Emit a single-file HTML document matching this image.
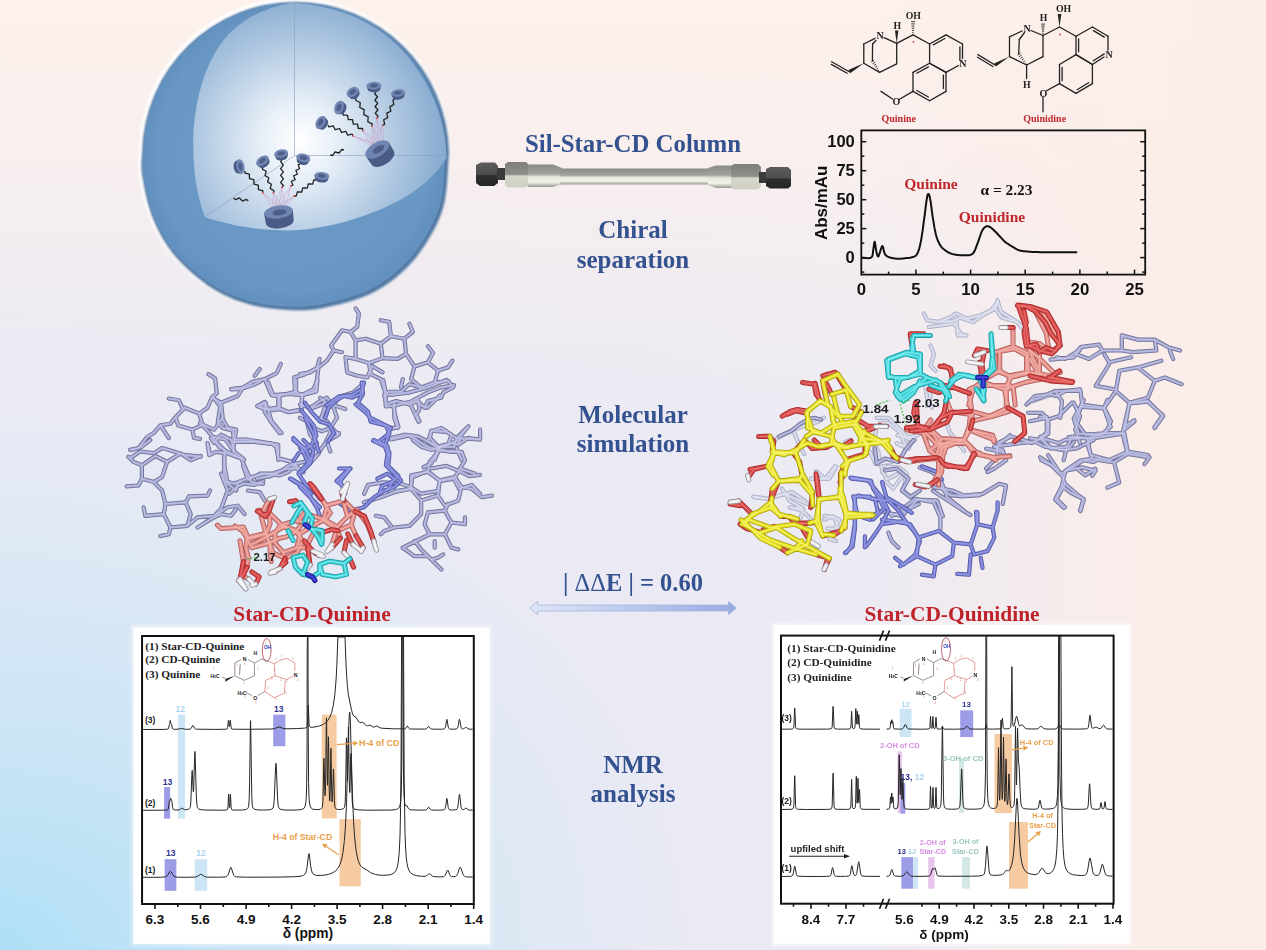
<!DOCTYPE html>
<html><head><meta charset="utf-8">
<style>
html,body{margin:0;padding:0;}
body{width:1266px;height:950px;overflow:hidden;position:relative;
background:linear-gradient(to left, rgba(252,237,232,1) 0px, rgba(252,237,232,0.85) 116px, rgba(252,237,232,0.35) 266px, rgba(252,237,232,0) 390px),
linear-gradient(to bottom, rgba(253,241,235,1) 0px, rgba(252,240,236,0.8) 150px, rgba(250,239,238,0.35) 300px, rgba(250,239,238,0) 440px),
radial-gradient(ellipse 950px 700px at 0px 950px, rgba(174,223,246,1) 0%, rgba(174,223,246,0.72) 15%, rgba(174,223,246,0.5) 30%, rgba(174,223,246,0.3) 47%, rgba(174,223,246,0.2) 55%, rgba(174,223,246,0.1) 64%, rgba(174,223,246,0) 76%),
linear-gradient(to right, #e8eaf5 0px, #ebeaf4 700px, #eeebf2 1000px);}
svg{position:absolute;left:0;top:0;filter:blur(0.35px);}
</style></head>
<body>
<svg width="1266" height="950" viewBox="0 0 1266 950">
<defs>
<radialGradient id="inner" cx="296" cy="143" r="160" fx="300" fy="140" gradientUnits="userSpaceOnUse">
<stop offset="0" stop-color="#ffffff"/>
<stop offset="0.25" stop-color="#e6eef7"/>
<stop offset="0.6" stop-color="#b4cbe3"/>
<stop offset="1" stop-color="#7ea4cc"/>
</radialGradient>
<radialGradient id="shell" cx="294" cy="154" r="153" gradientUnits="userSpaceOnUse">
<stop offset="0" stop-color="#6d9bc8"/>
<stop offset="0.9" stop-color="#6897c4"/>
<stop offset="1" stop-color="#6391bf"/>
</radialGradient>
<filter id="blur2" x="-20%" y="-20%" width="140%" height="140%"><feGaussianBlur stdDeviation="2"/></filter>
<filter id="blur1" x="-20%" y="-20%" width="140%" height="140%"><feGaussianBlur stdDeviation="1.2"/></filter>
</defs>
<path d="M141,150 A153.5,153.5 0 0 1 447.9,150 L447.9,150 C447.8,151.2 448.2,149.1 447.5,157.3 C446.8,165.5 446.4,186.8 443.8,199.0 C441.2,211.2 437.7,219.8 431.6,230.8 C425.5,241.8 417.3,254.8 407.1,265.0 C396.9,275.2 384.7,285.1 370.4,292.0 C356.1,298.9 335.3,303.9 321.4,306.7 C307.5,309.5 299.4,309.3 287.1,308.7 C274.9,308.1 260.6,306.6 247.9,303.0 C235.2,299.4 223.4,295.1 211.2,287.1 C199.0,279.2 184.3,266.7 174.5,255.3 C164.7,243.9 158.0,232.0 152.4,218.6 C146.8,205.2 143.1,186.4 141.2,175.0 C139.3,163.6 141.0,154.2 141.0,150.0 Z" fill="none" stroke="#ffffff" stroke-width="5" opacity="0.95" filter="url(#blur1)"/>
<path d="M141,150 A153.5,153.5 0 0 1 447.9,150 L447.9,150 C447.8,151.2 448.2,149.1 447.5,157.3 C446.8,165.5 446.4,186.8 443.8,199.0 C441.2,211.2 437.7,219.8 431.6,230.8 C425.5,241.8 417.3,254.8 407.1,265.0 C396.9,275.2 384.7,285.1 370.4,292.0 C356.1,298.9 335.3,303.9 321.4,306.7 C307.5,309.5 299.4,309.3 287.1,308.7 C274.9,308.1 260.6,306.6 247.9,303.0 C235.2,299.4 223.4,295.1 211.2,287.1 C199.0,279.2 184.3,266.7 174.5,255.3 C164.7,243.9 158.0,232.0 152.4,218.6 C146.8,205.2 143.1,186.4 141.2,175.0 C139.3,163.6 141.0,154.2 141.0,150.0 Z" fill="#557aa3" filter="url(#blur1)" transform="translate(1.2,1.5)"/>
<path d="M141,150 A153.5,153.5 0 0 1 447.9,150 L447.9,150 C447.8,151.2 448.2,149.1 447.5,157.3 C446.8,165.5 446.4,186.8 443.8,199.0 C441.2,211.2 437.7,219.8 431.6,230.8 C425.5,241.8 417.3,254.8 407.1,265.0 C396.9,275.2 384.7,285.1 370.4,292.0 C356.1,298.9 335.3,303.9 321.4,306.7 C307.5,309.5 299.4,309.3 287.1,308.7 C274.9,308.1 260.6,306.6 247.9,303.0 C235.2,299.4 223.4,295.1 211.2,287.1 C199.0,279.2 184.3,266.7 174.5,255.3 C164.7,243.9 158.0,232.0 152.4,218.6 C146.8,205.2 143.1,186.4 141.2,175.0 C139.3,163.6 141.0,154.2 141.0,150.0 Z" fill="url(#shell)" transform="translate(294.5,155) scale(0.985) translate(-294.5,-155)"/>
<path d="M291,3 C262,8 236,22 220,45 C204,68 196,98 193.5,130 C192,165 196,195 205,217 C228,225 255,230 290,230.5 C330,229 370,216 400,200 C420,189 436,175 446.5,158 C446,120 430,80 400,48 C372,20 335,5 291,3 Z" fill="url(#inner)"/>
<g stroke="#8aa2bf" stroke-width="0.7" fill="none" opacity="0.9"><line x1="294.5" y1="4" x2="294.5" y2="155.5"/><line x1="294.5" y1="155.5" x2="446" y2="155.5"/><line x1="294.5" y1="155.5" x2="206" y2="216"/></g>
<line x1="262.8" y1="192.8" x2="272.7" y2="209" stroke="#c9a0c8" stroke-width="0.5"/>
<line x1="262.8" y1="192.8" x2="278.7" y2="209" stroke="#c9a0c8" stroke-width="0.5"/>
<line x1="262.8" y1="192.8" x2="284.7" y2="209" stroke="#c9a0c8" stroke-width="0.5"/>
<line x1="273.4" y1="192.8" x2="272.7" y2="209" stroke="#c9a0c8" stroke-width="0.5"/>
<line x1="273.4" y1="192.8" x2="278.7" y2="209" stroke="#c9a0c8" stroke-width="0.5"/>
<line x1="273.4" y1="192.8" x2="284.7" y2="209" stroke="#c9a0c8" stroke-width="0.5"/>
<line x1="282" y1="187.4" x2="272.7" y2="209" stroke="#c9a0c8" stroke-width="0.5"/>
<line x1="282" y1="187.4" x2="278.7" y2="209" stroke="#c9a0c8" stroke-width="0.5"/>
<line x1="282" y1="187.4" x2="284.7" y2="209" stroke="#c9a0c8" stroke-width="0.5"/>
<line x1="291" y1="186" x2="272.7" y2="209" stroke="#c9a0c8" stroke-width="0.5"/>
<line x1="291" y1="186" x2="278.7" y2="209" stroke="#c9a0c8" stroke-width="0.5"/>
<line x1="291" y1="186" x2="284.7" y2="209" stroke="#c9a0c8" stroke-width="0.5"/>
<line x1="294" y1="196" x2="272.7" y2="209" stroke="#c9a0c8" stroke-width="0.5"/>
<line x1="294" y1="196" x2="278.7" y2="209" stroke="#c9a0c8" stroke-width="0.5"/>
<line x1="294" y1="196" x2="284.7" y2="209" stroke="#c9a0c8" stroke-width="0.5"/>
<polyline points="245.0,171.0 245.0,173.2 247.2,173.7 249.4,174.2 249.4,176.4 249.5,178.7 251.7,179.2 253.9,179.7 253.9,181.9 253.9,184.1 256.1,184.6 258.3,185.1 258.4,187.4 258.4,189.6 260.6,190.1 262.8,190.6 262.8,192.8" fill="none" stroke="#222" stroke-width="1.3" stroke-linejoin="round"/>
<polyline points="263.0,167.0 262.4,169.1 264.3,170.2 266.2,171.3 265.6,173.4 265.0,175.6 266.9,176.7 268.8,177.8 268.2,179.9 267.6,182.0 269.5,183.1 271.4,184.2 270.8,186.4 270.2,188.5 272.1,189.6 274.0,190.7 273.4,192.8" fill="none" stroke="#222" stroke-width="1.3" stroke-linejoin="round"/>
<polyline points="282.0,160.0 280.6,161.7 282.0,163.4 283.4,165.1 282.0,166.8 280.6,168.6 282.0,170.3 283.4,172.0 282.0,173.7 280.6,175.4 282.0,177.1 283.4,178.8 282.0,180.6 280.6,182.3 282.0,184.0 283.4,185.7 282.0,187.4" fill="none" stroke="#222" stroke-width="1.3" stroke-linejoin="round"/>
<polyline points="300.0,164.0 298.1,164.8 298.9,166.8 299.6,168.7 297.8,169.5 295.9,170.3 296.6,172.2 297.4,174.2 295.5,175.0 293.6,175.8 294.4,177.8 295.1,179.7 293.2,180.5 291.4,181.3 292.1,183.2 292.9,185.2 291.0,186.0" fill="none" stroke="#222" stroke-width="1.3" stroke-linejoin="round"/>
<polyline points="316.0,180.0 313.8,179.9 313.2,182.0 312.7,184.1 310.5,184.0 308.3,183.9 307.8,186.0 307.2,188.1 305.0,188.0 302.8,187.9 302.2,190.0 301.7,192.1 299.5,192.0 297.3,191.9 296.8,194.0 296.2,196.1 294.0,196.0" fill="none" stroke="#222" stroke-width="1.3" stroke-linejoin="round"/>
<polyline points="233.7,198.0 235.3,199.6 237.3,198.8 239.4,197.9 240.9,199.5 242.5,201.1 244.6,200.2 246.6,199.4 248.2,201.0" fill="none" stroke="#222" stroke-width="1.3" stroke-linejoin="round"/>
<circle cx="262.8" cy="192.8" r="0.9" fill="#e05050"/>
<circle cx="273.4" cy="192.8" r="0.9" fill="#e05050"/>
<circle cx="282" cy="187.4" r="0.9" fill="#e05050"/>
<circle cx="291" cy="186" r="0.9" fill="#e05050"/>
<circle cx="294" cy="196" r="0.9" fill="#e05050"/>
<g transform="translate(240.5,166.6) rotate(80)"><path d="M-7.5,0 L-6.375,3.5 A6.375,3.4 0 0 0 6.375,3.5 L7.5,0 Z" fill="#4a5b85"/><ellipse cx="0" cy="0" rx="7.5" ry="4" fill="#7287b3"/><ellipse cx="0" cy="0" rx="4.125" ry="2.0" fill="#4f618b"/></g>
<g transform="translate(262.3,160.8) rotate(-35)"><path d="M-7,0 L-5.95,3.5 A5.95,3.57 0 0 0 5.95,3.5 L7,0 Z" fill="#4a5b85"/><ellipse cx="0" cy="0" rx="7" ry="4.2" fill="#7287b3"/><ellipse cx="0" cy="0" rx="3.8500000000000005" ry="2.1" fill="#4f618b"/></g>
<g transform="translate(281.1,153.5) rotate(-12)"><path d="M-7,0 L-5.95,3.5 A5.95,3.4 0 0 0 5.95,3.5 L7,0 Z" fill="#4a5b85"/><ellipse cx="0" cy="0" rx="7" ry="4" fill="#7287b3"/><ellipse cx="0" cy="0" rx="3.8500000000000005" ry="2.0" fill="#4f618b"/></g>
<g transform="translate(303.4,157.9) rotate(15)"><path d="M-7,0 L-5.95,3.5 A5.95,3.57 0 0 0 5.95,3.5 L7,0 Z" fill="#4a5b85"/><ellipse cx="0" cy="0" rx="7" ry="4.2" fill="#7287b3"/><ellipse cx="0" cy="0" rx="3.8500000000000005" ry="2.1" fill="#4f618b"/></g>
<g transform="translate(321.8,175.8) rotate(5)"><path d="M-7.5,0 L-6.375,3.5 A6.375,3.23 0 0 0 6.375,3.5 L7.5,0 Z" fill="#4a5b85"/><ellipse cx="0" cy="0" rx="7.5" ry="3.8" fill="#7287b3"/><ellipse cx="0" cy="0" rx="4.125" ry="1.9" fill="#4f618b"/></g>
<g transform="translate(278.7,214) rotate(-8)"><path d="M-14.5,-2 L-14,8 A14,6.5 0 0 0 14,8 L14.5,-2 Z" fill="#4a5b85"/><ellipse cx="0" cy="-2" rx="14.5" ry="6.5" fill="#7185b2"/><ellipse cx="1" cy="-1.5" rx="7" ry="3" fill="#4d5f88"/></g>
<line x1="353" y1="136" x2="372" y2="146" stroke="#c9a0c8" stroke-width="0.5"/>
<line x1="353" y1="136" x2="378" y2="146" stroke="#c9a0c8" stroke-width="0.5"/>
<line x1="353" y1="136" x2="384" y2="146" stroke="#c9a0c8" stroke-width="0.5"/>
<line x1="362.8" y1="130.7" x2="372" y2="146" stroke="#c9a0c8" stroke-width="0.5"/>
<line x1="362.8" y1="130.7" x2="378" y2="146" stroke="#c9a0c8" stroke-width="0.5"/>
<line x1="362.8" y1="130.7" x2="384" y2="146" stroke="#c9a0c8" stroke-width="0.5"/>
<line x1="372" y1="126.3" x2="372" y2="146" stroke="#c9a0c8" stroke-width="0.5"/>
<line x1="372" y1="126.3" x2="378" y2="146" stroke="#c9a0c8" stroke-width="0.5"/>
<line x1="372" y1="126.3" x2="384" y2="146" stroke="#c9a0c8" stroke-width="0.5"/>
<line x1="376.8" y1="118" x2="372" y2="146" stroke="#c9a0c8" stroke-width="0.5"/>
<line x1="376.8" y1="118" x2="378" y2="146" stroke="#c9a0c8" stroke-width="0.5"/>
<line x1="376.8" y1="118" x2="384" y2="146" stroke="#c9a0c8" stroke-width="0.5"/>
<line x1="382.6" y1="125.3" x2="372" y2="146" stroke="#c9a0c8" stroke-width="0.5"/>
<line x1="382.6" y1="125.3" x2="378" y2="146" stroke="#c9a0c8" stroke-width="0.5"/>
<line x1="382.6" y1="125.3" x2="384" y2="146" stroke="#c9a0c8" stroke-width="0.5"/>
<polyline points="328.0,125.0 329.0,127.0 331.1,126.4 333.3,125.8 334.2,127.8 335.2,129.7 337.4,129.1 339.5,128.5 340.5,130.5 341.5,132.5 343.6,131.9 345.8,131.3 346.8,133.2 347.7,135.2 349.9,134.6 352.0,134.0 353.0,136.0" fill="none" stroke="#222" stroke-width="1.3" stroke-linejoin="round"/>
<polyline points="343.0,113.0 343.3,115.2 345.5,115.2 347.6,115.3 347.9,117.4 348.3,119.6 350.4,119.6 352.6,119.7 352.9,121.8 353.2,124.0 355.4,124.1 357.5,124.1 357.9,126.3 358.2,128.4 360.3,128.5 362.5,128.5 362.8,130.7" fill="none" stroke="#222" stroke-width="1.3" stroke-linejoin="round"/>
<polyline points="356.0,98.0 355.8,100.5 358.0,101.5 360.2,102.6 360.0,105.1 359.8,107.5 362.0,108.6 364.2,109.7 364.0,112.2 363.8,114.6 366.0,115.7 368.2,116.8 368.0,119.2 367.8,121.7 370.0,122.8 372.2,123.8 372.0,126.3" fill="none" stroke="#222" stroke-width="1.3" stroke-linejoin="round"/>
<polyline points="376.0,92.0 374.7,93.7 376.1,95.2 377.5,96.8 376.2,98.5 374.9,100.2 376.3,101.8 377.7,103.3 376.4,105.0 375.1,106.7 376.5,108.2 377.9,109.8 376.6,111.5 375.3,113.2 376.7,114.8 378.1,116.3 376.8,118.0" fill="none" stroke="#222" stroke-width="1.3" stroke-linejoin="round"/>
<polyline points="395.0,99.0 393.0,100.0 393.4,102.3 393.9,104.5 391.9,105.6 389.9,106.6 390.4,108.9 390.8,111.1 388.8,112.2 386.8,113.2 387.2,115.4 387.7,117.7 385.7,118.7 383.7,119.8 384.2,122.0 384.6,124.3 382.6,125.3" fill="none" stroke="#222" stroke-width="1.3" stroke-linejoin="round"/>
<polyline points="330.3,155.0 332.4,155.5 333.7,153.8 335.0,152.0 337.1,152.5 339.2,153.0 340.5,151.2 341.8,149.5 343.9,150.0" fill="none" stroke="#222" stroke-width="1.3" stroke-linejoin="round"/>
<circle cx="353" cy="136" r="0.9" fill="#e05050"/>
<circle cx="362.8" cy="130.7" r="0.9" fill="#e05050"/>
<circle cx="372" cy="126.3" r="0.9" fill="#e05050"/>
<circle cx="376.8" cy="118" r="0.9" fill="#e05050"/>
<circle cx="382.6" cy="125.3" r="0.9" fill="#e05050"/>
<g transform="translate(320.6,122.4) rotate(-60)"><path d="M-7,0 L-5.95,3.5 A5.95,3.8249999999999997 0 0 0 5.95,3.5 L7,0 Z" fill="#4a5b85"/><ellipse cx="0" cy="0" rx="7" ry="4.5" fill="#7287b3"/><ellipse cx="0" cy="0" rx="3.8500000000000005" ry="2.25" fill="#4f618b"/></g>
<g transform="translate(339,107.4) rotate(-70)"><path d="M-7,0 L-5.95,3.5 A5.95,3.8249999999999997 0 0 0 5.95,3.5 L7,0 Z" fill="#4a5b85"/><ellipse cx="0" cy="0" rx="7" ry="4.5" fill="#7287b3"/><ellipse cx="0" cy="0" rx="3.8500000000000005" ry="2.25" fill="#4f618b"/></g>
<g transform="translate(352.6,91.9) rotate(-35)"><path d="M-6.5,0 L-5.5249999999999995,3.5 A5.5249999999999995,3.8249999999999997 0 0 0 5.5249999999999995,3.5 L6.5,0 Z" fill="#4a5b85"/><ellipse cx="0" cy="0" rx="6.5" ry="4.5" fill="#7287b3"/><ellipse cx="0" cy="0" rx="3.575" ry="2.25" fill="#4f618b"/></g>
<g transform="translate(373.9,85.6) rotate(-3)"><path d="M-7.5,0 L-6.375,3.5 A6.375,3.23 0 0 0 6.375,3.5 L7.5,0 Z" fill="#4a5b85"/><ellipse cx="0" cy="0" rx="7.5" ry="3.8" fill="#7287b3"/><ellipse cx="0" cy="0" rx="4.125" ry="1.9" fill="#4f618b"/></g>
<g transform="translate(398,92.9) rotate(-8)"><path d="M-7,0 L-5.95,3.5 A5.95,3.23 0 0 0 5.95,3.5 L7,0 Z" fill="#4a5b85"/><ellipse cx="0" cy="0" rx="7" ry="3.8" fill="#7287b3"/><ellipse cx="0" cy="0" rx="3.8500000000000005" ry="1.9" fill="#4f618b"/></g>
<g transform="translate(379,152) rotate(-32)"><path d="M-13.5,-3 L-13,7 A13,7 0 0 0 13,7 L13.5,-3 Z" fill="#4a5b85"/><ellipse cx="0" cy="-3" rx="13.5" ry="7" fill="#7185b2"/><ellipse cx="1" cy="-2.5" rx="6.5" ry="3.2" fill="#4d5f88"/></g>
<defs>
<linearGradient id="metal" x1="0" y1="0" x2="0" y2="1">
<stop offset="0" stop-color="#8a8a86"/><stop offset="0.42" stop-color="#a2a29e"/><stop offset="0.55" stop-color="#e6e6de"/><stop offset="0.78" stop-color="#f4f4ec"/><stop offset="1" stop-color="#9a9a94"/>
</linearGradient>
<linearGradient id="metal2" x1="0" y1="0" x2="0" y2="1">
<stop offset="0" stop-color="#7e7e7b"/><stop offset="0.48" stop-color="#8e8e8a"/><stop offset="0.55" stop-color="#d6d6ca"/><stop offset="1" stop-color="#d0d0c4"/>
</linearGradient>
<linearGradient id="dark" x1="0" y1="0" x2="0" y2="1">
<stop offset="0" stop-color="#5c5c5c"/><stop offset="0.5" stop-color="#4e4e4e"/><stop offset="0.56" stop-color="#2e2e2e"/><stop offset="1" stop-color="#262626"/>
</linearGradient>
</defs>
<path d="M476,165 L481,162.5 L495,162.5 L498,166 L498,183 L494,186 L480,186 L476,183 Z" fill="url(#dark)"/>
<rect x="497" y="168" width="9" height="12" fill="#3a3a3a"/>
<path d="M505,164 L508,162 L526,162 L529,165 L529,185 L526,187.5 L508,187.5 L505,185 Z" fill="url(#metal2)"/>
<path d="M528,164.5 L553,164.5 L562,168 L562,184 L553,187 L528,187 Z" fill="url(#metal)"/>
<rect x="560" y="168.5" width="150" height="16" fill="url(#metal)"/>
<path d="M708,168 L716,165.5 L733,165.5 L733,188 L716,188 L708,185 Z" fill="url(#metal)"/>
<path d="M731,166 L734,164 L758,164 L761,167 L761,187 L758,189.5 L734,189.5 L731,187 Z" fill="url(#metal2)"/>
<rect x="759" y="172" width="8" height="11" fill="#3a3a3a"/>
<path d="M766,169 L770,167 L788,167 L791,170 L791,186 L788,188.5 L770,188.5 L766,186 Z" fill="url(#dark)"/>
<line x1="875.0" y1="38.3" x2="863.8" y2="44.0" stroke="#222" stroke-width="1.3" stroke-linecap="round"/>
<line x1="863.8" y1="44.0" x2="863.8" y2="63.2" stroke="#222" stroke-width="1.3" stroke-linecap="round"/>
<line x1="863.8" y1="63.2" x2="879.6" y2="72.4" stroke="#222" stroke-width="1.3" stroke-linecap="round"/>
<line x1="879.6" y1="72.4" x2="896.7" y2="63.8" stroke="#222" stroke-width="1.3" stroke-linecap="round"/>
<line x1="896.7" y1="63.8" x2="896.7" y2="43.4" stroke="#222" stroke-width="1.3" stroke-linecap="round"/>
<line x1="896.7" y1="43.4" x2="884.0" y2="37.6" stroke="#222" stroke-width="1.3" stroke-linecap="round"/>
<line x1="896.7" y1="43.4" x2="913.0" y2="34.9" stroke="#222" stroke-width="1.3" stroke-linecap="round"/>
<line x1="913.0" y1="34.9" x2="929.6" y2="44.0" stroke="#222" stroke-width="1.3" stroke-linecap="round"/>
<line x1="876.0" y1="40.5" x2="872.6" y2="44.0" stroke="#222" stroke-width="1.3" stroke-linecap="round"/>
<line x1="872.6" y1="44.0" x2="872.4" y2="60.5" stroke="#222" stroke-width="1.3" stroke-linecap="round"/>
<line x1="878.7" y1="70.4" x2="878.3" y2="70.6" stroke="#222" stroke-width="0.9" stroke-linecap="round"/><line x1="877.7" y1="68.4" x2="876.9" y2="68.9" stroke="#222" stroke-width="0.9" stroke-linecap="round"/><line x1="876.8" y1="66.4" x2="875.6" y2="67.1" stroke="#222" stroke-width="0.9" stroke-linecap="round"/><line x1="875.8" y1="64.4" x2="874.2" y2="65.3" stroke="#222" stroke-width="0.9" stroke-linecap="round"/><line x1="874.9" y1="62.3" x2="872.9" y2="63.6" stroke="#222" stroke-width="0.9" stroke-linecap="round"/><line x1="874.0" y1="60.3" x2="871.5" y2="61.8" stroke="#222" stroke-width="0.9" stroke-linecap="round"/>
<line x1="913.3" y1="32.7" x2="912.7" y2="32.7" stroke="#222" stroke-width="0.9" stroke-linecap="round"/><line x1="913.5" y1="30.5" x2="912.5" y2="30.5" stroke="#222" stroke-width="0.9" stroke-linecap="round"/><line x1="913.8" y1="28.3" x2="912.2" y2="28.3" stroke="#222" stroke-width="0.9" stroke-linecap="round"/><line x1="914.1" y1="26.1" x2="911.9" y2="26.1" stroke="#222" stroke-width="0.9" stroke-linecap="round"/><line x1="914.3" y1="23.9" x2="911.7" y2="23.9" stroke="#222" stroke-width="0.9" stroke-linecap="round"/><line x1="914.6" y1="21.7" x2="911.4" y2="21.7" stroke="#222" stroke-width="0.9" stroke-linecap="round"/>
<polygon points="896.7,43.4 898.4,30.5 895.0,30.5" fill="#222"/>
<polygon points="863.8,63.2 848.4,70.1 850.2,73.3" fill="#222"/>
<line x1="849.3" y1="71.7" x2="831.6" y2="61.8" stroke="#222" stroke-width="1.3" stroke-linecap="round"/>
<line x1="831.3" y1="64.4" x2="847.2" y2="73.3" stroke="#222" stroke-width="1.3" stroke-linecap="round"/>
<line x1="929.6" y1="44.0" x2="946.0" y2="34.9" stroke="#222" stroke-width="1.3" stroke-linecap="round"/>
<line x1="946.0" y1="34.9" x2="962.5" y2="44.0" stroke="#222" stroke-width="1.3" stroke-linecap="round"/>
<line x1="962.5" y1="44.0" x2="962.5" y2="58.5" stroke="#222" stroke-width="1.3" stroke-linecap="round"/>
<line x1="958.5" y1="65.5" x2="946.0" y2="72.4" stroke="#222" stroke-width="1.3" stroke-linecap="round"/>
<line x1="946.0" y1="72.4" x2="929.6" y2="63.2" stroke="#222" stroke-width="1.3" stroke-linecap="round"/>
<line x1="929.6" y1="63.2" x2="929.6" y2="44.0" stroke="#222" stroke-width="1.3" stroke-linecap="round"/>
<line x1="929.6" y1="63.2" x2="946.0" y2="72.4" stroke="#222" stroke-width="1.3" stroke-linecap="round"/>
<line x1="946.0" y1="72.4" x2="946.0" y2="91.4" stroke="#222" stroke-width="1.3" stroke-linecap="round"/>
<line x1="946.0" y1="91.4" x2="929.6" y2="100.7" stroke="#222" stroke-width="1.3" stroke-linecap="round"/>
<line x1="929.6" y1="100.7" x2="913.0" y2="91.4" stroke="#222" stroke-width="1.3" stroke-linecap="round"/>
<line x1="913.0" y1="91.4" x2="913.0" y2="72.4" stroke="#222" stroke-width="1.3" stroke-linecap="round"/>
<line x1="913.0" y1="72.4" x2="929.6" y2="63.2" stroke="#222" stroke-width="1.3" stroke-linecap="round"/>
<line x1="933.3" y1="44.9" x2="944.8" y2="38.5" stroke="#222" stroke-width="1.3" stroke-linecap="round"/>
<line x1="959.9" y1="46.9" x2="959.9" y2="60.3" stroke="#222" stroke-width="1.3" stroke-linecap="round"/>
<line x1="928.4" y1="66.9" x2="916.8" y2="73.3" stroke="#222" stroke-width="1.3" stroke-linecap="round"/>
<line x1="943.4" y1="75.2" x2="943.4" y2="88.6" stroke="#222" stroke-width="1.3" stroke-linecap="round"/>
<line x1="916.8" y1="90.5" x2="928.4" y2="97.0" stroke="#222" stroke-width="1.3" stroke-linecap="round"/>
<line x1="913.0" y1="91.4" x2="899.5" y2="99.3" stroke="#222" stroke-width="1.3" stroke-linecap="round"/>
<line x1="892.5" y1="99.0" x2="881.0" y2="91.4" stroke="#222" stroke-width="1.3" stroke-linecap="round"/>
<text x="880.2" y="39.2" text-anchor="middle" font-family="Liberation Serif" font-weight="bold" font-size="10" fill="#222">N</text>
<text x="962.8" y="66.8" text-anchor="middle" font-family="Liberation Serif" font-weight="bold" font-size="10" fill="#222">N</text>
<text x="896.4" y="105" text-anchor="middle" font-family="Liberation Serif" font-weight="bold" font-size="10" fill="#222">O</text>
<text x="913.3" y="19" text-anchor="middle" font-family="Liberation Serif" font-weight="bold" font-size="9.8" fill="#222">OH</text>
<text x="897.4" y="28.5" text-anchor="middle" font-family="Liberation Serif" font-weight="bold" font-size="9.8" fill="#222">H</text>
<circle cx="913.5" cy="42" r="0.9" fill="#d04040"/>
<text x="898.7" y="122.4" text-anchor="middle" font-family="Liberation Serif" font-weight="bold" font-size="10" fill="#c0272d">Quinine</text>
<line x1="1022.0" y1="31.0" x2="1009.5" y2="36.8" stroke="#222" stroke-width="1.3" stroke-linecap="round"/>
<line x1="1009.5" y1="36.8" x2="1009.5" y2="56.6" stroke="#222" stroke-width="1.3" stroke-linecap="round"/>
<line x1="1009.5" y1="56.6" x2="1026.6" y2="65.0" stroke="#222" stroke-width="1.3" stroke-linecap="round"/>
<line x1="1026.6" y1="65.0" x2="1043.0" y2="56.6" stroke="#222" stroke-width="1.3" stroke-linecap="round"/>
<line x1="1043.0" y1="56.6" x2="1043.0" y2="35.5" stroke="#222" stroke-width="1.3" stroke-linecap="round"/>
<line x1="1043.0" y1="35.5" x2="1031.0" y2="30.5" stroke="#222" stroke-width="1.3" stroke-linecap="round"/>
<line x1="1043.0" y1="35.5" x2="1059.5" y2="27.0" stroke="#222" stroke-width="1.3" stroke-linecap="round"/>
<line x1="1059.5" y1="27.0" x2="1076.0" y2="36.2" stroke="#222" stroke-width="1.3" stroke-linecap="round"/>
<line x1="1024.5" y1="32.5" x2="1019.3" y2="39.5" stroke="#222" stroke-width="1.3" stroke-linecap="round"/>
<line x1="1019.3" y1="39.5" x2="1018.7" y2="53.5" stroke="#222" stroke-width="1.3" stroke-linecap="round"/>
<line x1="1025.5" y1="63.0" x2="1025.1" y2="63.3" stroke="#222" stroke-width="0.9" stroke-linecap="round"/><line x1="1024.5" y1="61.1" x2="1023.7" y2="61.6" stroke="#222" stroke-width="0.9" stroke-linecap="round"/><line x1="1023.4" y1="59.1" x2="1022.2" y2="59.9" stroke="#222" stroke-width="0.9" stroke-linecap="round"/><line x1="1022.4" y1="57.2" x2="1020.8" y2="58.2" stroke="#222" stroke-width="0.9" stroke-linecap="round"/><line x1="1021.3" y1="55.2" x2="1019.3" y2="56.5" stroke="#222" stroke-width="0.9" stroke-linecap="round"/><line x1="1020.3" y1="53.2" x2="1017.9" y2="54.9" stroke="#222" stroke-width="0.9" stroke-linecap="round"/>
<polygon points="1059.5,27.0 1061.3,14.0 1057.7,14.0" fill="#222"/>
<line x1="1043.3" y1="33.6" x2="1042.7" y2="33.6" stroke="#222" stroke-width="0.9" stroke-linecap="round"/><line x1="1043.5" y1="31.7" x2="1042.5" y2="31.7" stroke="#222" stroke-width="0.9" stroke-linecap="round"/><line x1="1043.8" y1="29.8" x2="1042.2" y2="29.8" stroke="#222" stroke-width="0.9" stroke-linecap="round"/><line x1="1044.0" y1="27.9" x2="1042.0" y2="27.9" stroke="#222" stroke-width="0.9" stroke-linecap="round"/><line x1="1044.3" y1="26.0" x2="1041.7" y2="26.0" stroke="#222" stroke-width="0.9" stroke-linecap="round"/><line x1="1044.5" y1="24.1" x2="1041.5" y2="24.1" stroke="#222" stroke-width="0.9" stroke-linecap="round"/>
<line x1="1026.6" y1="65.0" x2="1026.6" y2="78.5" stroke="#222" stroke-width="1.3" stroke-linecap="round"/>
<polygon points="1009.5,56.6 994.1,63.4 995.9,66.6" fill="#222"/>
<line x1="995.0" y1="65.0" x2="977.9" y2="54.6" stroke="#222" stroke-width="1.3" stroke-linecap="round"/>
<line x1="977.5" y1="57.2" x2="992.9" y2="66.5" stroke="#222" stroke-width="1.3" stroke-linecap="round"/>
<line x1="1076.0" y1="36.2" x2="1092.4" y2="27.0" stroke="#222" stroke-width="1.3" stroke-linecap="round"/>
<line x1="1092.4" y1="27.0" x2="1108.0" y2="36.2" stroke="#222" stroke-width="1.3" stroke-linecap="round"/>
<line x1="1108.0" y1="36.2" x2="1108.0" y2="50.0" stroke="#222" stroke-width="1.3" stroke-linecap="round"/>
<line x1="1104.0" y1="57.0" x2="1092.4" y2="64.5" stroke="#222" stroke-width="1.3" stroke-linecap="round"/>
<line x1="1092.4" y1="64.5" x2="1076.0" y2="54.6" stroke="#222" stroke-width="1.3" stroke-linecap="round"/>
<line x1="1076.0" y1="54.6" x2="1076.0" y2="36.2" stroke="#222" stroke-width="1.3" stroke-linecap="round"/>
<line x1="1076.0" y1="54.6" x2="1092.4" y2="64.5" stroke="#222" stroke-width="1.3" stroke-linecap="round"/>
<line x1="1092.4" y1="64.5" x2="1092.4" y2="83.6" stroke="#222" stroke-width="1.3" stroke-linecap="round"/>
<line x1="1092.4" y1="83.6" x2="1076.0" y2="93.4" stroke="#222" stroke-width="1.3" stroke-linecap="round"/>
<line x1="1076.0" y1="93.4" x2="1059.5" y2="83.6" stroke="#222" stroke-width="1.3" stroke-linecap="round"/>
<line x1="1059.5" y1="83.6" x2="1059.5" y2="64.5" stroke="#222" stroke-width="1.3" stroke-linecap="round"/>
<line x1="1059.5" y1="64.5" x2="1076.0" y2="54.6" stroke="#222" stroke-width="1.3" stroke-linecap="round"/>
<line x1="1093.4" y1="30.6" x2="1104.3" y2="37.1" stroke="#222" stroke-width="1.3" stroke-linecap="round"/>
<line x1="1104.3" y1="53.9" x2="1093.3" y2="60.8" stroke="#222" stroke-width="1.3" stroke-linecap="round"/>
<line x1="1078.6" y1="39.0" x2="1078.6" y2="51.8" stroke="#222" stroke-width="1.3" stroke-linecap="round"/>
<line x1="1062.1" y1="80.7" x2="1062.1" y2="67.4" stroke="#222" stroke-width="1.3" stroke-linecap="round"/>
<line x1="1088.6" y1="82.8" x2="1077.1" y2="89.7" stroke="#222" stroke-width="1.3" stroke-linecap="round"/>
<line x1="1059.5" y1="83.6" x2="1046.5" y2="90.8" stroke="#222" stroke-width="1.3" stroke-linecap="round"/>
<line x1="1043.0" y1="97.0" x2="1043.0" y2="111.8" stroke="#222" stroke-width="1.3" stroke-linecap="round"/>
<text x="1027" y="31.8" text-anchor="middle" font-family="Liberation Serif" font-weight="bold" font-size="10" fill="#222">N</text>
<text x="1109" y="58.2" text-anchor="middle" font-family="Liberation Serif" font-weight="bold" font-size="10" fill="#222">N</text>
<text x="1043.4" y="96.5" text-anchor="middle" font-family="Liberation Serif" font-weight="bold" font-size="10" fill="#222">O</text>
<text x="1063.6" y="11.8" text-anchor="middle" font-family="Liberation Serif" font-weight="bold" font-size="9.8" fill="#222">OH</text>
<text x="1043.5" y="21" text-anchor="middle" font-family="Liberation Serif" font-weight="bold" font-size="9.8" fill="#222">H</text>
<text x="1026.8" y="87.5" text-anchor="middle" font-family="Liberation Serif" font-weight="bold" font-size="9.8" fill="#222">H</text>
<circle cx="1060" cy="34.5" r="0.9" fill="#d04040"/>
<text x="1044.7" y="121.7" text-anchor="middle" font-family="Liberation Serif" font-weight="bold" font-size="10" fill="#c0272d">Quinidine</text>
<rect x="861.3" y="130.4" width="283.9000000000001" height="144.20000000000002" fill="none" stroke="#111" stroke-width="1.8"/>
<line x1="861.3" y1="272.1" x2="864.3" y2="272.1" stroke="#111" stroke-width="1.5"/>
<line x1="1145.2" y1="272.1" x2="1142.2" y2="272.1" stroke="#111" stroke-width="1.5"/>
<line x1="861.3" y1="257.6" x2="866.3" y2="257.6" stroke="#111" stroke-width="1.5"/>
<line x1="1145.2" y1="257.6" x2="1140.2" y2="257.6" stroke="#111" stroke-width="1.5"/>
<line x1="861.3" y1="243.1" x2="864.3" y2="243.1" stroke="#111" stroke-width="1.5"/>
<line x1="1145.2" y1="243.1" x2="1142.2" y2="243.1" stroke="#111" stroke-width="1.5"/>
<line x1="861.3" y1="228.6" x2="866.3" y2="228.6" stroke="#111" stroke-width="1.5"/>
<line x1="1145.2" y1="228.6" x2="1140.2" y2="228.6" stroke="#111" stroke-width="1.5"/>
<line x1="861.3" y1="214.1" x2="864.3" y2="214.1" stroke="#111" stroke-width="1.5"/>
<line x1="1145.2" y1="214.1" x2="1142.2" y2="214.1" stroke="#111" stroke-width="1.5"/>
<line x1="861.3" y1="199.7" x2="866.3" y2="199.7" stroke="#111" stroke-width="1.5"/>
<line x1="1145.2" y1="199.7" x2="1140.2" y2="199.7" stroke="#111" stroke-width="1.5"/>
<line x1="861.3" y1="185.2" x2="864.3" y2="185.2" stroke="#111" stroke-width="1.5"/>
<line x1="1145.2" y1="185.2" x2="1142.2" y2="185.2" stroke="#111" stroke-width="1.5"/>
<line x1="861.3" y1="170.7" x2="866.3" y2="170.7" stroke="#111" stroke-width="1.5"/>
<line x1="1145.2" y1="170.7" x2="1140.2" y2="170.7" stroke="#111" stroke-width="1.5"/>
<line x1="861.3" y1="156.2" x2="864.3" y2="156.2" stroke="#111" stroke-width="1.5"/>
<line x1="1145.2" y1="156.2" x2="1142.2" y2="156.2" stroke="#111" stroke-width="1.5"/>
<line x1="861.3" y1="141.7" x2="866.3" y2="141.7" stroke="#111" stroke-width="1.5"/>
<line x1="1145.2" y1="141.7" x2="1140.2" y2="141.7" stroke="#111" stroke-width="1.5"/>
<line x1="888.6" y1="274.6" x2="888.6" y2="271.6" stroke="#111" stroke-width="1.5"/>
<line x1="915.9" y1="274.6" x2="915.9" y2="269.6" stroke="#111" stroke-width="1.5"/>
<line x1="943.3" y1="274.6" x2="943.3" y2="271.6" stroke="#111" stroke-width="1.5"/>
<line x1="970.6" y1="274.6" x2="970.6" y2="269.6" stroke="#111" stroke-width="1.5"/>
<line x1="997.9" y1="274.6" x2="997.9" y2="271.6" stroke="#111" stroke-width="1.5"/>
<line x1="1025.2" y1="274.6" x2="1025.2" y2="269.6" stroke="#111" stroke-width="1.5"/>
<line x1="1052.6" y1="274.6" x2="1052.6" y2="271.6" stroke="#111" stroke-width="1.5"/>
<line x1="1079.9" y1="274.6" x2="1079.9" y2="269.6" stroke="#111" stroke-width="1.5"/>
<line x1="1107.2" y1="274.6" x2="1107.2" y2="271.6" stroke="#111" stroke-width="1.5"/>
<line x1="1134.5" y1="274.6" x2="1134.5" y2="269.6" stroke="#111" stroke-width="1.5"/>
<text x="854.8" y="262.9" text-anchor="end" font-family="Liberation Sans" font-weight="bold" font-size="16.5" fill="#111">0</text>
<text x="854.8" y="233.9" text-anchor="end" font-family="Liberation Sans" font-weight="bold" font-size="16.5" fill="#111">25</text>
<text x="854.8" y="205.0" text-anchor="end" font-family="Liberation Sans" font-weight="bold" font-size="16.5" fill="#111">50</text>
<text x="854.8" y="176.0" text-anchor="end" font-family="Liberation Sans" font-weight="bold" font-size="16.5" fill="#111">75</text>
<text x="854.8" y="147.0" text-anchor="end" font-family="Liberation Sans" font-weight="bold" font-size="16.5" fill="#111">100</text>
<text x="861.3" y="294.7" text-anchor="middle" font-family="Liberation Sans" font-weight="bold" font-size="16.8" fill="#111">0</text>
<text x="915.9" y="294.7" text-anchor="middle" font-family="Liberation Sans" font-weight="bold" font-size="16.8" fill="#111">5</text>
<text x="970.6" y="294.7" text-anchor="middle" font-family="Liberation Sans" font-weight="bold" font-size="16.8" fill="#111">10</text>
<text x="1025.2" y="294.7" text-anchor="middle" font-family="Liberation Sans" font-weight="bold" font-size="16.8" fill="#111">15</text>
<text x="1079.9" y="294.7" text-anchor="middle" font-family="Liberation Sans" font-weight="bold" font-size="16.8" fill="#111">20</text>
<text x="1134.5" y="294.7" text-anchor="middle" font-family="Liberation Sans" font-weight="bold" font-size="16.8" fill="#111">25</text>
<text transform="translate(826.6,202.8) rotate(-90)" text-anchor="middle" font-family="Liberation Sans" font-weight="bold" font-size="17" fill="#111">Abs/mAu</text>
<path d="M861.3,257.6 L862.5,257.7 L864.1,257.9 L866.1,258.1 L868.1,258.2 L869.8,258.1 L871.1,257.6 L872.0,256.7 L872.5,255.5 L872.8,254.0 L872.9,252.5 L873.1,250.9 L873.3,249.5 L873.6,248.0 L873.8,246.2 L874.0,244.5 L874.2,243.0 L874.4,242.0 L874.6,241.7 L874.9,242.4 L875.2,244.0 L875.5,246.0 L875.8,248.2 L876.1,250.2 L876.4,251.8 L876.7,253.0 L877.0,254.1 L877.3,255.1 L877.6,255.9 L877.9,256.3 L878.2,256.4 L878.6,256.1 L878.9,255.2 L879.3,254.1 L879.7,252.9 L880.1,251.7 L880.4,250.6 L880.8,249.7 L881.1,248.6 L881.5,247.5 L881.8,246.7 L882.2,246.1 L882.5,246.0 L882.8,246.5 L883.1,247.6 L883.5,249.0 L883.8,250.5 L884.1,251.9 L884.5,253.0 L884.8,253.7 L885.2,254.4 L885.5,254.9 L885.9,255.4 L886.4,255.8 L887.0,256.2 L887.7,256.6 L888.4,256.9 L889.3,257.2 L890.1,257.5 L891.0,257.7 L891.9,257.9 L892.8,258.2 L893.6,258.3 L894.5,258.5 L895.4,258.6 L896.3,258.7 L897.4,258.8 L898.5,258.8 L899.7,258.7 L901.0,258.7 L902.3,258.6 L903.7,258.5 L905.0,258.3 L906.5,258.1 L908.0,257.9 L909.6,257.7 L911.2,257.4 L912.6,257.1 L913.8,256.7 L914.7,256.3 L915.4,255.9 L916.0,255.4 L916.5,254.9 L917.0,254.1 L917.6,253.0 L918.2,251.6 L918.7,250.1 L919.3,248.3 L919.8,246.3 L920.3,244.0 L920.9,241.4 L921.4,238.3 L922.0,234.7 L922.6,230.9 L923.1,226.9 L923.6,223.0 L924.1,219.4 L924.6,215.8 L925.1,212.1 L925.5,208.5 L925.9,205.1 L926.3,202.1 L926.7,199.7 L927.0,197.7 L927.3,196.2 L927.6,195.1 L927.9,194.3 L928.2,193.9 L928.5,193.9 L928.8,194.2 L929.2,194.8 L929.5,195.9 L929.8,197.2 L930.1,198.9 L930.5,200.8 L930.9,203.1 L931.2,205.8 L931.6,208.8 L932.0,212.0 L932.4,215.2 L932.9,218.2 L933.4,221.2 L933.9,224.3 L934.4,227.4 L935.0,230.4 L935.6,233.2 L936.2,235.6 L936.8,237.6 L937.4,239.4 L938.0,241.0 L938.7,242.4 L939.3,243.7 L940.0,244.9 L940.7,245.9 L941.3,246.8 L942.0,247.6 L942.7,248.3 L943.5,249.0 L944.4,249.7 L945.3,250.4 L946.4,251.2 L947.4,251.8 L948.6,252.5 L949.7,253.1 L950.9,253.5 L952.1,253.9 L953.4,254.3 L954.7,254.5 L956.0,254.7 L957.3,254.9 L958.6,255.1 L959.9,255.2 L961.2,255.3 L962.6,255.3 L963.9,255.3 L965.1,255.3 L966.2,255.3 L967.2,255.3 L968.1,255.2 L969.0,255.2 L969.7,255.1 L970.5,254.9 L971.1,254.6 L971.8,254.3 L972.3,253.9 L972.9,253.5 L973.4,252.9 L973.9,252.2 L974.4,251.2 L975.0,250.0 L975.7,248.4 L976.3,246.7 L977.0,244.9 L977.6,243.1 L978.3,241.4 L978.9,239.6 L979.5,237.7 L980.2,235.8 L980.8,234.0 L981.4,232.3 L982.1,230.9 L982.7,229.8 L983.3,228.8 L984.0,228.0 L984.6,227.4 L985.2,226.9 L985.9,226.5 L986.6,226.3 L987.3,226.2 L988.0,226.3 L988.7,226.5 L989.5,226.8 L990.3,227.2 L991.1,227.8 L992.0,228.5 L992.9,229.3 L993.9,230.3 L994.8,231.2 L995.7,232.1 L996.7,233.0 L997.6,234.0 L998.5,235.0 L999.5,236.0 L1000.4,237.0 L1001.2,237.9 L1002.0,238.7 L1002.7,239.5 L1003.3,240.2 L1004.0,240.9 L1004.7,241.6 L1005.6,242.3 L1006.5,243.0 L1007.6,243.7 L1008.7,244.4 L1009.9,245.1 L1011.0,245.8 L1012.1,246.5 L1013.2,247.1 L1014.3,247.8 L1015.3,248.5 L1016.4,249.1 L1017.5,249.7 L1018.7,250.2 L1019.9,250.5 L1021.1,250.8 L1022.4,251.0 L1023.7,251.2 L1025.0,251.3 L1026.3,251.5 L1027.7,251.6 L1029.1,251.7 L1030.4,251.8 L1031.9,251.9 L1033.4,252.0 L1035.1,252.0 L1036.7,252.1 L1038.2,252.1 L1039.8,252.2 L1041.6,252.2 L1044.0,252.2 L1047.1,252.3 L1051.4,252.3 L1056.9,252.3 L1062.9,252.3 L1068.7,252.3 L1073.7,252.3 L1077.2,252.3" fill="none" stroke="#111" stroke-width="2" stroke-linejoin="round"/>
<text x="904.3" y="189" font-family="Liberation Serif" font-weight="bold" font-size="15.5" fill="#c0272d">Quinine</text>
<text x="958.8" y="222.4" font-family="Liberation Serif" font-weight="bold" font-size="15.5" fill="#c0272d">Quinidine</text>
<text x="980.5" y="195.3" font-family="Liberation Serif" font-weight="bold" font-size="15.4" fill="#111">α = 2.23</text>
<defs><path id="m_gry" d="M876.6,417.8 888.4,417.8 898.5,427.9 908.6,438.0 918.7,434.7 M871.5,438.0 878.2,451.5 879.9,459.9 M923.8,313.5 927.1,320.3 938.9,321.9 950.7,316.9 955.8,313.5 967.5,318.6 981.0,315.2 991.1,310.2 997.8,301.7 1001.2,311.8 1014.7,320.3 1024.8,328.7 M928.8,327.0 954.1,323.6 960.8,333.7 965.9,335.4 M930.5,345.5 933.9,353.9 930.5,365.7 935.6,370.8 M880.0,422.9 888.4,422.9 896.8,429.7 905.3,438.1 913.7,439.8 905.3,446.5 896.8,443.1 M927.1,385.9 930.5,396.0 927.1,406.1 M810.9,478.7 829.4,478.7 836.2,466.9 M753.7,497.2 767.1,498.9 784.0,493.9 795.8,498.9 807.5,504.0 M790.7,507.3 802.5,510.7 810.9,519.1 M824.4,515.8 834.5,517.4 837.8,527.5 829.4,539.3 836.2,541.0 M900.0,470.3 906.7,473.7 903.4,490.5 910.1,495.6 M776.5,438.6 793.1,429.7 806.3,425.3 817.4,422.0 824.0,417.6 M793.1,429.7 797.5,440.8 804.1,454.0 M872.7,436.3 876.0,464.0 M835.1,466.2 828.5,475.1 M845.1,441.9 850.6,439.7 M925.3,385.5 927.5,402.1 931.9,407.6 M946.3,422.0 949.6,432.0 964.0,450.8 M897.6,435.3 914.2,437.5 908.7,448.6 897.6,444.1 M870.0,451.9 875.5,464.0 892.1,461.8 M881.1,466.3 886.6,479.5 897.6,474.0 M876.5,426.6 874.3,442.1 875.4,464.2 888.7,462.0 M900.8,434.4 906.3,447.6 915.2,439.9 M882.0,472.0 887.6,466.4 899.7,467.6 906.3,473.1 899.7,479.7 893.1,488.6 886.4,481.9 M753.2,496.5 767.6,498.8 779.8,495.4 791.9,492.1 805.2,501.0 M782.0,488.8 789.7,501.0 801.9,507.6 M789.7,507.6 803.0,508.7 800.8,517.6 M824.0,519.8 832.8,516.4 839.5,519.8 835.1,528.6 827.3,528.6 M816.3,471.1 825.1,478.8 832.8,470.0 M940.0,322.1 953.3,321.0 959.9,317.7 973.2,322.1 984.2,314.4 995.3,308.8 997.5,300.0 M956.6,321.0 957.7,335.4 966.5,335.4 M995.3,308.8 1001.9,317.7 1017.4,322.1 1024.0,331.0 M1028.5,402.8 1050.6,395.1 1059.4,390.7 1080.0,390.7"/><path id="m_lav" d="M208.4,374.1 215.1,378.3 216.8,393.4 211.8,397.6 207.5,407.7 199.1,413.6 M184.8,407.7 199.1,413.6 202.5,424.6 192.4,429.6 178.1,425.4 175.6,417.0 184.8,407.7 M168.8,398.5 178.9,400.2 183.1,409.4 M175.6,417.0 170.5,423.7 160.4,425.4 153.7,433.0 146.9,437.2 138.5,448.1 130.1,449.8 M160.4,425.4 168.8,438.0 M192.4,429.6 194.1,438.0 200.0,438.9 M211.8,397.6 221.0,402.7 222.7,417.8 214.3,429.6 202.5,424.6 M221.0,402.7 237.8,396.0 242.9,387.5 253.0,381.6 264.8,379.1 276.6,373.2 280.8,364.0 M231.1,389.2 242.9,387.5 M254.7,375.8 259.7,369.0 M264.8,379.1 271.5,395.1 278.2,396.3 M278.2,396.3 295.1,391.8 301.8,395.1 301.8,409.4 288.4,412.0 278.2,407.7 278.2,396.3 M295.1,391.8 294.2,377.4 303.5,374.9 317.0,368.2 319.5,358.9 M301.8,395.1 316.1,390.9 317.0,379.1 M278.2,407.7 264.8,409.4 257.2,406.1 264.8,401.9 267.3,407.7 271.5,421.2 281.6,433.0 M221.9,417.8 227.7,427.9 236.2,429.6 234.5,439.7 247.9,439.7 278.2,444.8 278.2,459.9 M210.9,438.0 214.3,443.1 221.0,434.7 231.1,439.7 234.5,451.5 M207.5,443.1 209.2,454.9 M130.1,458.2 140.2,451.5 153.7,453.2 162.1,448.1 173.9,451.5 184.0,454.9 200.8,456.6 M355.6,308.4 358.9,313.5 357.2,326.9 350.5,332.0 342.1,330.3 331.1,345.5 333.7,350.5 342.1,352.2 M355.6,340.4 365.7,338.7 380.8,343.8 382.5,358.1 369.0,363.1 355.6,358.9 355.6,340.4 M380.8,343.8 390.9,336.2 404.4,338.7 406.1,353.9 397.6,358.9 382.5,358.1 M350.5,332.0 355.6,340.4 M390.9,336.2 389.2,321.9 380.8,320.2 M404.4,338.7 412.8,332.0 409.4,323.6 M406.1,353.9 414.5,366.5 M414.5,366.5 427.9,362.3 438.0,370.7 434.7,382.5 421.2,387.5 411.1,379.1 414.5,366.5 M427.9,362.3 433.0,353.0 427.9,346.3 M438.0,370.7 448.1,367.3 452.4,360.6 M434.7,382.5 448.1,380.8 453.2,387.5 443.1,392.6 441.4,397.6 427.9,401.0 424.6,407.7 417.8,401.0 409.4,404.4 396.0,401.0 385.9,404.4 384.2,394.3 389.2,391.8 401.0,391.8 409.4,384.2 421.2,387.5 M402.7,379.1 401.0,387.5 M369.0,363.1 370.7,374.1 380.8,379.1 385.9,394.3 M355.6,358.9 345.5,357.2 347.1,372.4 357.2,375.8 367.3,377.4 372.4,365.7 M374.1,367.3 382.5,372.4 M417.8,399.3 419.5,409.4 416.2,414.5 419.5,421.2 M394.3,402.7 394.3,417.8 397.6,427.9 389.2,427.9 M300.0,374.1 310.1,372.4 318.5,367.3 326.9,360.6 333.7,350.5 M318.5,367.3 316.8,380.8 313.5,389.2 303.4,394.3 300.0,394.3 M390.9,438.0 404.4,434.7 417.8,436.4 427.9,441.4 438.0,446.5 451.5,443.1 458.2,444.8 468.4,438.0 480.1,439.7 480.1,429.6 M431.3,431.3 441.4,427.9 451.5,434.7 448.1,444.8 438.0,448.1 427.9,441.4 431.3,431.3 M458.2,444.8 461.6,434.7 468.4,426.3 M439.7,448.1 434.7,459.9 M456.6,448.1 461.6,459.9 M300.0,404.4 310.1,407.7 320.2,401.0 326.9,397.6 333.7,407.7 337.0,417.8 330.3,427.9 321.9,431.3 313.5,427.9 306.7,421.2 300.0,417.8 M306.7,421.2 310.1,434.7 316.8,443.1 310.1,451.5 300.0,448.1 M325.3,421.2 338.7,434.7 326.9,441.4 330.3,451.5 M131.8,450.1 141.9,446.7 150.3,440.0 M141.9,465.3 155.4,456.0 167.1,461.9 162.1,477.0 153.7,482.1 141.9,478.7 141.9,465.3 M128.4,456.8 133.5,461.9 141.9,465.3 M141.9,478.7 138.5,485.5 126.7,486.3 M167.1,461.9 180.6,453.5 190.7,460.2 200.8,456.0 M153.7,482.1 162.1,490.5 165.5,504.0 M165.5,504.0 185.7,502.3 190.7,514.1 187.3,525.9 170.5,527.5 163.8,514.1 165.5,504.0 M185.7,502.3 189.0,496.4 207.5,495.6 210.1,490.5 M163.8,514.1 145.3,515.8 143.6,507.3 M170.5,527.5 168.8,534.3 160.4,536.0 M187.3,525.9 197.4,517.4 214.3,515.8 227.7,507.3 237.8,505.7 244.6,514.1 M197.4,527.5 210.9,519.1 221.0,514.1 231.1,515.8 236.2,509.0 M214.3,440.0 224.4,450.1 224.4,465.3 227.7,483.8 236.2,490.5 237.8,482.1 251.3,477.0 264.8,473.7 279.9,475.4 288.4,472.0 296.8,463.6 310.2,460.2 M207.5,443.4 209.2,455.2 216.0,451.8 227.7,453.5 241.2,458.5 247.9,473.7 251.3,482.1 263.1,483.8 M234.5,441.7 254.7,441.7 271.5,443.4 278.2,448.4 278.2,458.5 291.7,461.9 298.5,470.3 M221.0,473.7 227.7,490.5 221.0,509.0 214.3,515.8 M247.9,490.5 259.7,492.2 264.8,500.6 M412.8,440.0 421.2,446.7 431.3,450.1 441.4,446.7 451.5,443.4 458.2,440.0 M411.1,475.4 427.9,472.0 439.7,480.4 438.0,495.6 421.2,500.6 411.1,488.8 411.1,475.4 M439.7,480.4 454.9,477.0 461.6,487.1 458.2,500.6 444.8,505.7 438.0,495.6 M427.9,472.0 429.6,461.9 439.7,450.1 451.5,451.8 461.6,451.8 465.0,460.2 459.9,468.6 475.1,473.7 M461.6,487.1 471.7,488.8 481.8,497.2 491.9,495.6 M411.1,488.8 394.3,492.2 380.8,497.2 364.0,502.3 M421.2,500.6 421.2,514.1 409.4,525.9 394.3,527.5 384.2,530.9 380.8,534.3 M375.8,515.8 384.2,517.4 390.9,525.9 M427.9,512.4 444.8,510.7 451.5,522.5 444.8,534.3 429.6,534.3 424.6,524.2 427.9,512.4 M451.5,522.5 465.0,524.2 465.0,517.4 M444.8,534.3 451.5,547.7 458.2,549.4 M429.6,534.3 416.2,541.0 402.7,547.7 414.5,556.2 427.9,556.2 441.4,569.6 M414.5,541.0 421.2,549.4 431.3,559.5 438.0,557.8 443.1,554.5 M444.8,510.7 448.1,504.0 M434.7,541.0 434.7,547.7 M231.6,389.5 241.7,388.8 253.1,385.1 260.7,381.3 M268.2,382.5 273.3,395.2 288.5,393.9 302.4,395.2 316.3,391.4 317.5,380.0 M296.1,380.0 296.1,392.6 M279.6,395.2 279.6,409.1 270.8,410.3 259.4,406.5 265.7,402.7 264.5,411.6 270.8,421.7 279.6,433.1 M279.6,409.1 288.5,412.2 301.1,410.3 302.4,395.2 M310.0,409.1 326.4,402.7 334.0,405.3 345.3,409.1 M320.1,397.7 326.4,402.7 321.3,417.9 M232.9,441.9 254.3,441.9 275.8,444.5 278.4,458.4 293.5,462.1 301.1,471.0 311.2,462.1 318.8,453.3 M212.6,396.4 220.2,406.5 217.7,423.0 222.7,428.0 232.9,430.6 234.1,443.2 232.9,450.8 243.0,458.4 M200.0,423.0 207.6,430.6 212.6,436.9 225.3,439.4 231.6,448.2 M207.6,443.2 210.1,454.6 M212.6,436.9 219.0,447.0 230.3,453.3 244.2,459.6 M224.0,455.8 224.0,481.1 234.1,483.6 241.7,481.1 M243.0,465.9 248.0,479.8 260.7,473.5 273.3,473.5 287.2,468.5 296.1,468.5 303.6,472.3 M256.9,478.6 270.8,476.1 280.9,471.0 288.5,465.9 296.1,463.4 M229.1,493.7 237.9,486.2 244.2,483.6 254.3,484.9 263.2,481.1 M361.7,385.1 352.9,392.6 340.2,396.4 332.6,405.3 325.1,410.3 M320.0,417.9 327.6,421.7 330.1,433.1 325.1,443.2 320.0,450.8 M330.1,433.1 339.0,433.1 M383.2,380.0 385.7,392.6 385.7,406.5 395.8,405.3 411.0,401.5 427.4,392.6 440.1,387.6 454.0,385.1 M388.2,395.2 408.5,392.6 427.4,387.6 446.4,380.0 M393.3,406.5 395.8,417.9 398.4,426.8 390.8,429.3 M411.0,405.3 416.1,416.7 418.6,421.7 M421.1,405.3 427.4,407.8 440.1,395.2 M390.8,439.4 408.5,435.6 416.1,439.4 423.6,444.5 431.2,448.2 446.4,450.8 461.5,452.0 M431.2,430.6 446.4,431.8 456.5,438.1 454.0,447.0 438.8,447.0 430.0,438.1 431.2,430.6 M456.5,438.1 467.9,426.8 M456.5,438.1 480.0,439.4 M438.8,448.2 431.2,463.4 423.6,467.2 M412.3,477.3 427.4,471.0 440.1,481.1 437.5,491.2 421.1,493.7 411.0,487.4 412.3,477.3 M440.1,481.1 454.0,478.6 459.0,471.0 446.4,465.9 431.2,468.5 M454.0,478.6 459.0,488.7 471.7,484.9 480.0,493.7 M459.0,471.0 469.1,476.1 480.0,474.8 M368.0,484.9 383.2,482.4 400.9,483.6 411.0,487.4 M364.2,493.7 368.0,484.9 M395.8,491.2 412.3,488.7 M778.9,436.4 790.7,431.3 799.1,424.6 807.5,419.5 814.3,417.8 821.0,419.5 M1026.5,404.4 1034.9,396.0 1048.4,394.3 1056.8,396.0 1065.2,391.0 1080.0,389.3 M1028.1,412.8 1041.6,412.8 1048.4,419.6 1058.5,416.2 1065.2,409.5 1071.9,402.7 M997.8,443.1 1011.3,436.4 1023.1,439.8 1031.5,443.1 1041.6,438.1 1058.5,443.1 1065.2,439.8 1080.0,438.1 M1048.4,419.6 1048.4,429.7 1041.6,438.1 M1056.8,357.3 1065.2,359.0 1073.6,353.9 1080.0,348.9 M1073.6,402.7 1080.0,416.2 1075.3,429.7 1080.0,443.1 M1055.3,359.0 1073.8,357.3 M1075.5,353.9 1080.5,347.2 1099.1,344.7 1102.5,350.5 1089.0,359.0 1075.5,353.9 M1102.5,350.5 1121.8,350.5 M1121.8,335.4 1137.8,339.6 1154.7,339.6 1156.4,350.5 1132.8,352.2 1121.8,350.5 1121.8,335.4 M1154.7,339.6 1168.2,347.2 1180.0,350.5 M1169.8,350.5 1173.2,359.0 M1104.1,353.9 1109.2,362.3 1131.1,357.3 M1119.3,370.8 1137.8,367.4 1154.7,380.9 1147.9,397.7 1129.4,402.8 1115.9,391.0 1119.3,370.8 M1154.7,380.9 1164.8,377.5 1181.6,384.2 M1137.8,367.4 1161.4,360.7 M1129.4,402.8 1147.9,401.1 1163.1,416.3 1154.7,428.1 M1082.2,404.5 1104.1,407.8 1110.9,421.3 1105.8,433.1 1085.6,434.8 1075.5,421.3 1082.2,404.5 M1104.1,407.8 1115.9,391.0 M1129.4,402.8 1124.4,429.7 1134.5,421.3 M1109.2,364.0 1095.7,385.9 1114.2,389.3 M1055.3,391.0 1080.5,391.0 1082.2,404.5 M1030.0,401.1 1040.1,397.7 1055.3,391.0 1062.0,401.1 1060.3,417.9 M1030.0,421.3 1046.8,417.9 1046.8,434.8 1038.4,439.8 1030.0,438.2 M1087.3,438.2 1105.8,433.1 1124.4,433.1 1127.7,451.6 1109.2,460.1 1090.7,455.0 1087.3,438.2 M1040.1,438.2 1050.2,448.3 1067.1,446.6 1072.1,436.5 1087.3,438.2 M1127.7,451.6 1147.9,455.0 M1067.1,446.6 1063.7,460.1 M874.9,448.4 876.6,463.6 885.0,458.5 898.5,461.9 905.2,450.1 913.6,440.0 M885.0,470.3 896.8,468.6 908.6,478.7 901.8,490.5 910.2,497.2 920.0,490.5 M888.4,532.6 891.7,541.0 898.5,547.7 M885.0,507.3 891.7,515.8 905.2,510.7 918.7,504.0 M900.0,510.7 915.2,498.9 933.7,502.3 940.4,517.4 940.4,529.2 M933.7,487.1 952.2,490.5 964.0,495.6 982.5,493.9 999.3,483.8 1006.1,485.5 1002.7,504.0 M921.9,466.9 937.0,472.0 942.1,483.8 947.1,497.2 964.0,510.7 M987.5,472.0 994.3,468.6 1006.1,460.2 1002.7,450.1 994.3,446.7 M994.3,446.7 1017.8,443.4 1034.7,441.7 1044.8,446.7 1063.3,450.1 1076.8,448.4 1093.6,440.0 M1041.4,460.2 1051.5,465.3 1061.6,473.7 1065.0,483.8 1056.6,498.9 1065.0,507.3 M1065.0,483.8 1078.5,495.6 1083.5,498.9 1080.1,510.7 M1061.6,473.7 1078.5,463.6 1083.5,460.2 1093.6,461.9 1100.0,458.5 M1076.8,468.6 1085.2,475.4 1095.3,468.6 M1048.1,455.2 1058.2,470.3 M1080.4,406.7 1104.0,408.4 1110.7,426.9 1100.6,435.4 1078.7,433.7 1073.7,418.5 1080.4,406.7 M1090.5,438.7 1122.5,433.7 1127.6,453.9 1114.1,462.3 1092.2,458.9 1087.2,443.8 1090.5,438.7 M1127.6,453.9 1149.5,457.3 1144.4,464.0 M1114.1,462.3 1119.2,482.5 1107.4,487.6 M1122.5,433.7 1129.3,403.4 1147.8,401.7 1162.9,415.2 1154.5,426.9 M1125.9,425.3 1134.3,420.2 M1068.6,437.1 1090.5,438.7 M1090.5,458.9 1080.4,460.6 1065.3,470.7 1061.9,485.9 1055.2,499.4 1063.6,507.8 M1065.3,470.7 1082.1,467.4 1095.6,470.7 1092.2,475.8 M1061.9,485.9 1070.3,492.6 1083.8,499.4 1080.4,511.2 M1040.0,437.1 1050.1,447.2 1066.9,450.5 1073.7,442.1 M1040.0,457.3 1050.1,464.0 1060.2,474.1 M1040.0,416.8 1046.7,416.8 1048.4,433.7 1040.0,437.1 M1083.8,400.0 1080.4,406.7 M1107.4,400.0 1104.0,408.4 M986.1,468.5 997.2,457.4 1010.0,455.2 M997.2,457.4 997.2,446.3 1010.0,435.3 M986.1,448.6 1002.7,451.9 M879.8,510.7 901.9,516.2 917.4,499.6 937.3,500.7 942.8,516.2 M919.6,467.6 931.8,472.0 939.5,477.5 941.7,488.6 950.6,495.2 961.6,496.3 980.0,495.2 M932.9,490.8 946.2,499.6 961.6,509.6 970.5,515.1 M1050.6,359.7 1072.7,357.5 1080.0,349.8"/><path id="m_blu" d="M293.4,438.0 306.9,451.5 M305.2,417.8 313.6,434.7 318.7,451.5 M364.0,382.5 360.6,394.3 352.2,397.6 343.8,396.0 335.4,401.0 328.6,407.7 325.3,417.8 M355.6,404.4 364.0,411.1 370.7,417.8 384.2,424.6 390.9,427.9 387.5,434.7 379.1,441.4 387.5,446.5 389.2,458.2 M293.4,440.0 305.2,448.4 310.2,460.2 298.5,473.7 305.2,483.8 313.6,490.5 320.0,498.9 M290.0,478.7 303.5,487.1 311.9,498.9 320.0,507.3 M374.1,440.0 384.2,445.1 387.5,453.5 385.9,465.3 394.3,473.7 401.0,480.4 394.3,487.1 384.2,490.5 374.1,497.2 364.0,507.3 350.5,510.7 340.4,504.0 M303.4,440.0 313.5,450.1 310.1,463.6 300.0,473.7 M300.0,487.1 310.1,497.2 316.8,507.3 320.2,517.4 M338.7,480.4 350.5,468.6 M377.4,478.7 387.5,473.7 394.3,478.7 387.5,490.5 M301.1,410.3 307.4,417.9 313.7,425.5 316.3,435.6 311.2,445.7 298.6,453.3 293.5,460.9 M304.9,402.7 311.2,411.6 320.1,421.7 328.9,424.2 334.0,433.1 327.6,441.9 M326.4,405.3 339.0,396.4 351.7,395.2 360.0,390.1 M293.5,439.4 301.1,447.0 304.9,455.8 308.7,463.4 M339.0,468.5 349.1,468.5 M349.1,468.5 336.5,481.1 341.5,484.9 M291.0,478.6 303.6,486.2 311.2,493.7 M361.7,382.5 363.0,393.9 357.9,402.7 368.0,411.6 370.6,421.7 385.7,425.5 389.5,433.1 385.7,443.2 389.5,453.3 388.2,465.9 398.4,476.1 393.3,481.1 381.9,486.2 379.4,493.7 M350.3,468.5 340.2,481.1 345.3,493.7 M373.1,440.7 383.2,445.7 M851.3,478.7 868.1,480.4 881.6,497.2 888.4,510.7 881.6,524.2 874.9,534.3 866.5,546.1 M854.7,498.9 854.7,524.2 851.3,546.1 846.3,552.8 M858.0,495.6 874.9,498.9 878.2,512.4 868.1,517.4 M881.6,524.2 905.2,520.8 913.6,530.9 920.0,541.0 915.3,554.5 903.5,564.6 895.1,557.8 M871.5,498.9 888.4,500.6 898.5,510.7 905.2,520.8 M918.5,537.6 938.7,530.9 953.9,542.7 952.2,556.2 935.4,564.6 916.8,556.2 918.5,537.6 M900.0,522.5 910.1,524.2 918.5,537.6 M916.8,556.2 900.0,566.3 M935.4,564.6 933.7,576.4 921.9,574.7 M953.9,542.7 970.7,544.4 974.1,554.5 987.5,551.1 994.3,537.6 992.6,527.5 977.4,524.2 970.7,544.4 M977.4,524.2 977.4,512.4 M992.6,527.5 997.6,510.7 997.6,502.3 M970.7,554.5 969.0,574.7 957.2,573.8 M980.8,557.8 982.5,567.9 M922.0,466.3 936.3,471.8 941.9,479.5 M851.1,477.5 871.0,480.8 873.2,488.6 878.7,497.4 884.2,508.5 873.2,519.5 M853.3,496.3 855.5,506.3 857.7,516.2 M882.0,481.9 886.4,497.4 901.9,506.3 911.9,512.9 M976.0,511.8 977.1,525.1 M882.0,519.5 906.3,522.8 M850.5,477.7 870.0,481.1 M855.0,496.5 855.0,527.5 852.7,546.3 845.0,552.9 M855.0,496.5 870.0,496.5 M862.7,517.6 870.0,519.8 M864.9,536.3 864.9,547.4"/><path id="m_sal" d="M969.2,389.3 984.4,382.5 1004.6,389.3 1007.9,407.8 989.4,416.2 970.9,411.2 969.2,389.3 M994.5,352.2 1014.7,348.9 1026.5,355.6 1026.5,372.4 1009.6,375.8 996.2,370.8 994.5,352.2 M1028.1,345.5 1031.5,355.6 1038.2,369.1 M1009.6,375.8 1007.9,389.3 M1004.6,389.3 1024.8,382.5 1048.4,377.5 M1026.5,372.4 1041.6,374.1 1056.8,377.5 M970.9,411.2 969.2,426.3 964.2,439.8 947.3,446.5 935.6,443.1 925.5,433.0 913.7,431.4 M969.2,429.7 981.0,434.7 994.5,439.8 M947.3,441.5 944.0,453.2 M1030.0,306.7 1043.5,313.5 1051.9,327.0 1060.3,345.5 1050.2,352.2 1040.1,343.8 1030.0,342.1 M1030.0,350.5 1040.1,359.0 1053.6,372.5 1060.3,372.5 M1030.0,359.0 1036.7,370.8 1036.7,377.5 M930.3,450.1 938.7,443.4 967.3,443.4 974.1,453.5 M945.5,465.3 930.3,450.1 M913.5,461.0 935.4,458.5 945.5,465.3 M938.7,472.0 933.7,482.1 M974.1,453.5 989.2,456.8 996.0,460.2 M940.4,456.8 942.1,466.9 M906.5,429.8 922.0,432.0 929.7,428.7 940.8,438.6 964.0,439.7 972.8,420.9 969.5,393.3 980.6,385.5 1010.0,385.5 M972.8,420.9 991.6,416.5 1010.0,411.0 M947.4,386.6 946.3,399.9 951.8,413.2 M940.8,438.6 936.3,457.4 947.4,466.3 M973.9,453.0 964.0,439.7 M973.9,453.0 993.9,457.4 1010.0,456.3 M969.5,429.8 992.7,435.3 993.9,441.9 M923.1,433.1 929.7,450.8 938.6,457.4 M938.6,457.4 938.6,485.1 M954.0,412.1 969.5,414.3 M235.0,526.0 242.3,530.8 247.1,538.1 245.9,547.8 248.3,557.5 247.1,567.2 M247.1,538.1 255.6,535.7 266.5,533.3 270.1,523.6 268.9,511.5 M266.5,533.3 268.9,543.0 251.9,547.8 247.1,539.3 M268.9,543.0 279.8,538.1 285.8,536.9 295.5,532.1 300.4,526.0 M279.8,526.0 275.0,533.3 275.0,543.0 283.4,552.6 285.8,562.3 M279.8,526.0 288.3,528.4 300.4,533.3 296.7,547.8 283.4,552.6 M300.4,533.3 323.4,520.0 327.0,506.6 319.7,495.7 M323.4,520.0 337.9,530.8 340.3,538.1 M337.9,530.8 351.2,524.8 354.9,511.5 344.0,500.6 327.0,505.4 M351.2,524.8 356.1,535.7 M296.7,547.8 307.6,547.8 M915.2,458.7 939.5,458.7 941.7,448.8 934.0,434.4 924.0,430.0 M924.0,430.0 930.7,420.0 M941.7,448.8 950.6,441.0 963.9,439.9 970.5,428.8 M963.9,439.9 976.0,452.1 980.0,453.2 M942.8,455.4 941.7,472.0 937.3,479.7 M999.7,350.9 1013.0,346.4 1027.4,353.1 1028.5,373.0 1010.8,377.4 999.7,370.8 999.7,350.9 M1013.0,346.4 1013.0,327.6 M1035.1,311.1 1046.2,333.2 1048.4,346.4 M1028.5,373.0 1039.5,373.0 1050.6,377.4 M1039.5,373.0 1039.5,352.0 M1010.8,377.4 1006.3,386.3 1006.3,405.1 M999.7,370.8 984.2,379.6 973.2,388.5 968.8,405.1 M1013.0,386.3 1015.2,405.1 M217.4,525.1 220.9,528.6 243.4,526.9 248.7,539.0 M240.0,540.8 243.4,561.6 241.7,575.5 248.7,579.0 M248.7,539.0 266.0,533.8 269.5,542.5 271.2,561.6 M266.0,533.8 260.8,514.7 269.5,499.1 M269.5,513.0 281.7,525.1 295.6,530.4 302.5,540.8 297.3,552.9 285.1,558.2 273.0,552.9 269.5,542.5 M281.7,525.1 297.3,519.9 312.9,526.9 M297.3,521.7 304.3,513.0 325.1,519.9 330.3,513.0 321.6,499.1 M325.1,519.9 337.3,526.9 347.7,516.5 342.5,499.1 M347.7,516.5 356.4,509.5 366.8,523.4 373.8,540.8 M337.3,526.9 332.1,544.3 M252.1,544.3 266.0,537.3 283.4,526.9 M307.7,544.3 312.9,533.8 321.6,530.4"/><path id="m_red" d="M772.2,451.5 773.9,441.4 768.8,436.4 758.7,436.4 M807.5,411.1 797.4,409.4 790.7,411.1 782.3,416.2 M821.0,401.0 816.0,394.3 814.3,384.2 802.5,382.5 M837.8,374.1 827.7,374.1 822.7,375.8 M854.7,417.8 868.1,426.3 879.9,426.3 886.7,426.3 M822.7,380.8 824.4,390.9 827.7,404.4 M910.2,333.7 920.0,333.7 M912.0,345.5 910.3,335.4 923.8,333.7 M1018.0,305.1 1031.5,306.8 1046.7,311.8 1058.5,332.0 1060.1,345.5 1051.7,353.9 1039.9,350.6 1028.1,345.5 1026.5,328.7 1018.0,305.1 M1048.4,377.5 1071.9,382.5 M1007.9,407.8 1023.1,416.2 1024.8,433.0 1014.7,441.5 M970.9,411.2 950.7,412.8 940.6,417.9 930.5,429.7 M947.3,396.0 944.0,412.8 937.2,422.9 M915.4,402.7 913.7,412.8 918.7,426.3 927.1,428.0 M928.8,389.3 938.9,392.6 947.3,389.3 952.4,385.9 M979.3,362.3 981.0,370.8 981.0,379.2 M944.0,365.7 950.7,369.1 952.4,380.9 M987.7,350.6 977.6,348.9 974.3,355.6 M1030.0,375.8 1050.2,380.9 1072.1,382.6 M770.5,465.3 753.7,469.5 748.6,477.0 M772.2,488.8 770.5,502.3 M841.2,530.9 822.7,536.0 M841.2,472.0 847.9,460.2 864.8,455.2 M819.3,498.9 817.6,482.1 816.0,473.7 M816.0,522.5 797.4,524.2 789.0,517.4 M812.6,492.2 810.9,507.3 M760.4,534.3 787.3,552.8 M816.0,554.5 827.7,557.8 824.4,569.6 M740.2,505.7 730.1,504.0 M814.3,440.0 821.0,446.7 M888.4,446.7 893.4,456.8 905.2,460.2 920.0,458.5 M974.1,453.5 967.3,468.6 945.5,465.3 M900.0,460.2 913.5,461.0 M933.7,482.1 925.3,487.1 915.2,484.6 M815.2,383.3 819.6,401.0 M806.3,413.1 795.3,410.9 787.6,414.2 M835.1,443.0 826.3,447.4 811.9,448.5 806.3,441.9 M846.2,459.6 865.0,454.0 865.0,447.4 862.7,439.7 M861.6,412.0 850.6,406.5 M846.2,389.9 835.1,372.2 827.4,374.4 M831.8,394.3 826.3,383.3 M865.0,431.9 880.0,425.3 M763.2,436.3 769.9,436.3 M793.1,452.9 799.7,461.8 801.9,475.1 M767.6,466.2 750.0,469.5 M793.1,452.9 801.9,443.0 805.2,440.8 M916.4,403.2 917.6,423.1 M969.5,393.3 954.0,387.7 940.8,384.4 M951.8,413.2 947.4,422.0 931.9,428.7 M947.4,466.3 967.3,467.4 973.9,453.0 M936.3,457.4 914.2,459.6 M906.5,461.8 895.4,457.4 891.0,448.6 M247.1,567.2 242.3,576.9 238.6,580.5 M268.9,511.5 273.7,498.2 M285.8,562.3 275.0,572.0 M319.7,495.7 313.7,487.3 310.1,483.6 M340.3,538.1 331.9,547.8 M344.0,500.6 341.5,492.1 M356.1,535.7 363.3,547.8 M354.9,511.5 364.5,516.3 370.6,530.8 374.2,543.0 M346.4,540.5 344.0,552.6 M307.6,547.8 318.5,555.1 M307.6,547.8 310.1,564.7 M259.2,510.3 262.8,515.1 267.7,513.9 M251.9,572.0 259.2,576.9 255.6,584.1 M289.5,501.8 295.5,500.6 302.8,507.8 M323.4,532.1 331.9,529.6 337.9,530.8 M350.0,558.7 353.6,567.2 M890.9,448.8 893.1,455.4 901.9,459.8 M864.3,431.1 875.4,426.6 M866.5,453.2 862.1,456.5 M844.4,473.1 840.0,481.9 M844.4,445.4 851.1,441.0 M924.0,430.0 910.8,431.1 M906.3,427.7 917.4,426.6 928.5,430.0 M970.5,428.8 972.7,420.0 M939.5,458.7 943.9,464.2 965.0,468.7 974.9,454.3 M937.3,479.7 928.5,486.3 M812.9,505.4 810.7,507.6 M778.7,481.1 776.4,486.6 772.0,497.6 M752.1,514.2 738.8,501.0 M780.9,516.4 789.7,516.4 M779.8,547.4 787.5,551.8 796.3,547.4 M829.5,558.5 826.2,565.1 M833.9,535.2 845.0,527.5 M816.3,477.7 818.5,495.4 M796.3,523.1 809.6,523.1 M840.6,473.3 840.6,486.6 M803.0,529.7 809.6,540.8 M740.0,524.2 746.6,528.6 758.8,531.9 M763.2,529.7 774.2,526.4 M1013.0,327.6 1006.3,327.6 M1017.4,305.5 1026.3,306.6 1035.1,311.1 1045.1,322.1 1050.6,333.2 1059.4,344.2 1055.0,350.9 1046.2,347.6 1039.5,352.0 1036.2,344.2 1026.3,346.4 1024.0,333.2 1026.3,322.1 1024.0,311.1 M1050.6,377.4 1072.7,381.8 M1050.6,377.4 1059.4,370.8 M984.2,379.6 982.0,364.1 M982.0,364.1 984.2,352.0 M940.0,366.3 948.8,367.5 953.3,377.4 948.8,386.3 940.0,386.3 M321.6,499.1 311.2,485.2 M347.7,533.8 352.9,544.3 M304.3,540.8 312.9,551.2 M285.1,558.2 279.9,568.6 M257.3,511.2 266.0,516.5 M243.4,561.6 240.0,579.0"/><path id="m_wht" d="M238.6,580.5 245.9,589.0 M275.0,572.0 270.1,573.2 M331.9,547.8 327.0,551.4 M341.5,492.1 347.6,483.6 M363.3,547.8 360.9,551.4 M374.2,543.0 376.6,550.2 M344.0,552.6 348.8,557.5 M318.5,555.1 323.4,556.3 M310.1,564.7 307.6,568.4 M255.6,584.1 251.9,585.3 M901.9,459.8 909.7,462.0 M875.4,426.6 886.4,426.6 M928.5,486.3 917.4,484.1 M738.8,501.0 730.0,502.1 M826.2,565.1 824.0,569.5 M809.6,540.8 818.5,546.3 M747.7,475.5 748.8,480.0 M1006.3,327.6 1000.8,327.6 M982.0,364.1 967.6,361.9 M984.2,352.0 975.4,355.3 M248.7,579.0 252.1,582.5 M269.5,499.1 274.7,497.3 M342.5,499.1 347.7,483.4 M373.8,540.8 375.5,547.7 M332.1,544.3 328.6,549.5 M352.9,544.3 361.6,551.2 M312.9,551.2 321.6,554.7 M279.9,568.6 271.2,572.1 M240.0,579.0 245.2,587.7"/><path id="m_yel" d="M822.7,380.8 837.8,374.1 M837.8,374.1 844.6,384.2 859.7,404.4 853.0,416.2 837.8,416.2 827.7,404.4 822.7,380.8 M807.5,411.1 821.0,401.0 831.1,407.7 834.5,424.6 821.0,433.0 807.5,427.9 807.5,411.1 M834.5,424.6 854.7,421.2 861.4,431.3 859.7,444.8 844.6,448.1 831.1,443.1 834.5,424.6 M861.4,431.3 881.6,441.4 888.4,449.8 896.8,458.2 M772.2,451.5 784.0,454.9 795.8,449.8 807.5,443.1 817.6,446.5 827.7,444.8 M773.9,453.5 795.8,452.6 802.5,473.7 799.1,480.4 778.9,481.2 770.5,465.3 773.9,453.5 M773.9,453.5 772.2,443.4 770.5,440.0 M795.8,452.6 800.8,445.1 804.2,440.0 M778.9,481.2 772.2,488.8 M770.5,502.3 760.4,510.7 746.9,519.1 741.9,524.2 M770.5,502.3 778.9,514.1 797.4,519.1 M819.3,498.9 841.2,497.2 846.3,517.4 841.2,530.9 M822.7,536.0 816.0,522.5 819.3,498.9 M841.2,497.2 841.2,472.0 M864.8,455.2 868.1,446.7 864.8,440.0 M846.3,517.4 871.5,515.8 M802.5,473.7 812.6,492.2 M743.6,524.2 760.4,534.3 M787.3,552.8 807.5,544.4 810.9,530.9 794.1,524.2 770.5,527.5 746.9,519.1 M760.4,534.3 768.8,539.3 792.4,547.7 816.0,554.5 M821.0,446.7 834.5,443.4 846.3,446.7 871.5,443.4 888.4,440.0 M819.6,401.0 806.3,413.1 M819.6,401.0 830.7,406.5 832.9,420.9 836.2,427.5 855.0,424.2 863.9,438.6 880.0,440.8 M806.3,413.1 813.0,431.9 830.7,436.3 835.1,443.0 M813.0,431.9 806.3,436.3 M835.1,443.0 846.2,459.6 M846.2,459.6 845.1,475.1 M855.0,424.2 861.6,412.0 M850.6,406.5 846.2,389.9 M846.2,389.9 831.8,394.3 M834.0,397.6 837.3,412.0 841.7,420.9 M769.9,436.3 774.3,451.8 793.1,452.9 M774.3,451.8 767.6,466.2 M767.6,466.2 773.2,475.1 M840.0,426.6 853.3,424.4 862.1,439.9 866.5,444.3 886.4,442.1 890.9,448.8 M862.1,439.9 864.3,431.1 M866.5,444.3 866.5,453.2 M862.1,456.5 848.8,460.9 842.2,466.4 M848.8,460.9 844.4,473.1 M840.0,488.6 843.3,497.4 846.6,512.9 871.0,515.1 873.2,515.1 M772.0,470.0 778.7,481.1 798.6,478.8 811.8,494.3 812.9,505.4 M772.0,497.6 770.9,507.6 752.1,514.2 M770.9,507.6 780.9,516.4 M789.7,516.4 796.3,518.7 M752.1,514.2 745.5,523.1 756.5,534.1 761.0,538.6 779.8,547.4 M796.3,547.4 801.9,540.8 M756.5,534.1 776.4,527.5 794.1,538.6 809.6,547.4 829.5,558.5 M818.5,499.9 839.5,496.5 846.1,514.2 870.0,514.2 M818.5,499.9 818.5,519.8 821.8,534.1 833.9,535.2 M845.0,527.5 846.1,514.2 M809.6,523.1 818.5,519.8 M840.6,486.6 839.5,496.5 M741.1,519.8 745.5,523.1"/><path id="m_cya" d="M886.7,360.6 905.2,353.9 918.7,357.2 920.0,370.7 908.6,377.4 888.4,377.4 886.7,360.6 M895.1,377.4 896.8,390.9 903.5,401.0 913.6,392.6 920.0,380.8 M911.9,338.7 913.6,350.5 M888.4,359.0 906.9,352.2 920.4,353.9 920.4,374.1 900.2,379.2 888.4,375.8 888.4,359.0 M900.2,379.2 895.2,392.6 900.2,399.4 913.7,389.3 927.1,377.5 920.4,374.1 M912.0,352.2 912.0,345.5 913.7,335.4 930.5,335.4 M927.1,377.5 940.6,382.5 945.7,389.3 947.3,396.0 945.7,401.1 M950.7,380.9 959.1,374.1 969.2,375.8 981.0,379.2 991.1,369.1 992.8,353.9 991.1,333.7 M981.0,382.5 984.4,389.3 982.7,399.4 M897.6,396.6 914.2,386.6 936.3,380.0 M930.8,385.5 947.4,391.1 949.6,396.6 M976.2,388.8 983.9,401.0 M291.9,522.4 298.0,511.5 302.8,505.4 312.5,518.7 310.1,528.4 322.2,530.8 322.2,541.7 M288.3,530.8 293.1,540.5 M293.1,557.5 302.8,555.1 307.6,562.3 302.8,574.4 312.5,576.9 319.7,572.0 319.7,564.7 M319.7,564.7 329.4,561.1 344.0,563.5 346.4,574.4 335.5,576.9 322.2,574.4 319.7,564.7 M344.0,563.5 350.0,558.7 M293.1,557.5 295.5,567.2 302.8,574.4 M990.9,334.3 992.0,353.1 994.2,368.6 986.4,376.3 M986.4,376.3 973.2,377.4 963.2,375.2 954.4,379.6 948.8,386.3 M984.2,384.0 982.0,388.5 984.2,399.5 M940.0,384.0 945.5,394.0 M293.8,506.0 300.8,502.6 307.7,513.0 304.3,523.4 312.9,530.4 318.2,537.3 321.6,544.3"/><path id="m_nbl" d="M307.6,574.4 312.5,576.9 314.9,580.5 M305.2,524.8 308.8,527.2 M977.6,377.4 986.4,377.4 M983.1,379.6 983.1,386.3"/></defs>
<use href="#m_gry" fill="none" stroke="#a8acc4" stroke-width="4.2" stroke-linejoin="round" stroke-linecap="round"/>
<use href="#m_gry" fill="none" stroke="#cfd2e4" stroke-width="2.7" stroke-linejoin="round" stroke-linecap="round"/>
<use href="#m_gry" fill="none" stroke="#e8eaf4" stroke-width="0.9" stroke-linejoin="round" stroke-linecap="round" opacity="0.8"/>
<use href="#m_lav" fill="none" stroke="#6a6c92" stroke-width="4.2" stroke-linejoin="round" stroke-linecap="round"/>
<use href="#m_lav" fill="none" stroke="#a5a7d0" stroke-width="2.7" stroke-linejoin="round" stroke-linecap="round"/>
<use href="#m_lav" fill="none" stroke="#caccee" stroke-width="0.9" stroke-linejoin="round" stroke-linecap="round" opacity="0.8"/>
<use href="#m_blu" fill="none" stroke="#4e54a8" stroke-width="4.2" stroke-linejoin="round" stroke-linecap="round"/>
<use href="#m_blu" fill="none" stroke="#7a80d0" stroke-width="2.7" stroke-linejoin="round" stroke-linecap="round"/>
<use href="#m_blu" fill="none" stroke="#a0a6ec" stroke-width="0.9" stroke-linejoin="round" stroke-linecap="round" opacity="0.8"/>
<use href="#m_sal" fill="none" stroke="#b05a5a" stroke-width="5.0" stroke-linejoin="round" stroke-linecap="round"/>
<use href="#m_sal" fill="none" stroke="#e3908a" stroke-width="3.4" stroke-linejoin="round" stroke-linecap="round"/>
<use href="#m_sal" fill="none" stroke="#f6b8b0" stroke-width="1.1" stroke-linejoin="round" stroke-linecap="round" opacity="0.8"/>
<use href="#m_red" fill="none" stroke="#a82828" stroke-width="5.0" stroke-linejoin="round" stroke-linecap="round"/>
<use href="#m_red" fill="none" stroke="#d44848" stroke-width="3.4" stroke-linejoin="round" stroke-linecap="round"/>
<use href="#m_red" fill="none" stroke="#ee7878" stroke-width="1.1" stroke-linejoin="round" stroke-linecap="round" opacity="0.8"/>
<use href="#m_wht" fill="none" stroke="#909098" stroke-width="5.0" stroke-linejoin="round" stroke-linecap="round"/>
<use href="#m_wht" fill="none" stroke="#e8e8ec" stroke-width="3.4" stroke-linejoin="round" stroke-linecap="round"/>
<use href="#m_wht" fill="none" stroke="#ffffff" stroke-width="1.1" stroke-linejoin="round" stroke-linecap="round" opacity="0.8"/>
<use href="#m_yel" fill="none" stroke="#a8a010" stroke-width="5.0" stroke-linejoin="round" stroke-linecap="round"/>
<use href="#m_yel" fill="none" stroke="#e6e020" stroke-width="3.4" stroke-linejoin="round" stroke-linecap="round"/>
<use href="#m_yel" fill="none" stroke="#f8f680" stroke-width="1.1" stroke-linejoin="round" stroke-linecap="round" opacity="0.8"/>
<use href="#m_cya" fill="none" stroke="#189aa0" stroke-width="5.0" stroke-linejoin="round" stroke-linecap="round"/>
<use href="#m_cya" fill="none" stroke="#38d0d6" stroke-width="3.4" stroke-linejoin="round" stroke-linecap="round"/>
<use href="#m_cya" fill="none" stroke="#90f0f2" stroke-width="1.1" stroke-linejoin="round" stroke-linecap="round" opacity="0.8"/>
<use href="#m_nbl" fill="none" stroke="#1a1a90" stroke-width="5.0" stroke-linejoin="round" stroke-linecap="round"/>
<use href="#m_nbl" fill="none" stroke="#3030c8" stroke-width="3.4" stroke-linejoin="round" stroke-linecap="round"/>
<use href="#m_nbl" fill="none" stroke="#5a5ae8" stroke-width="1.1" stroke-linejoin="round" stroke-linecap="round" opacity="0.8"/>
<g font-family="Liberation Sans" font-weight="bold" font-size="11" fill="#1a1a1a"><text x="253.5" y="560.5" textLength="22" lengthAdjust="spacingAndGlyphs">2.17</text><text x="862.5" y="412.6" textLength="26" lengthAdjust="spacingAndGlyphs">1.84</text><text x="913.8" y="407.1" textLength="26" lengthAdjust="spacingAndGlyphs">2.03</text><text x="893.4" y="423.1" textLength="27" lengthAdjust="spacingAndGlyphs">1.92</text></g>
<g stroke="#4ec04e" stroke-width="1.2" stroke-dasharray="2,1.5" fill="none"><line x1="247" y1="559" x2="260" y2="557"/><line x1="876" y1="405" x2="890" y2="400"/><line x1="901" y1="402" x2="910" y2="400"/><line x1="900" y1="404" x2="906" y2="425"/></g>
<defs><linearGradient id="arrg" x1="0" y1="0" x2="1" y2="0">
<stop offset="0" stop-color="#dfe6f6"/><stop offset="0.5" stop-color="#bac8ec"/><stop offset="1" stop-color="#97abe0"/></linearGradient></defs>
<path d="M529.5,608 L537.5,601.5 L537.5,605 L728.5,605 L728.5,601.5 L736.5,608 L728.5,614.5 L728.5,611 L537.5,611 L537.5,614.5 Z" fill="url(#arrg)" stroke="#a5b5e2" stroke-width="0.8"/>
<rect x="130.5" y="624.5" width="362" height="322" fill="#ffffff" opacity="0.35" filter="url(#blur1)"/>
<rect x="133.4" y="627.5" width="356.2" height="316.3" fill="#ffffff"/>
<rect x="178" y="714.5" width="7.1" height="104.2" fill="#cde6f6" opacity="1"/>
<rect x="273.2" y="714.6" width="12.2" height="31.6" fill="#9c9de6" opacity="1"/>
<rect x="164.1" y="787" width="6.0" height="31.7" fill="#9c9de6" opacity="1"/>
<rect x="164.6" y="859.2" width="11.8" height="31.6" fill="#9c9de6" opacity="1"/>
<rect x="194.6" y="859.2" width="12.6" height="31.6" fill="#cde6f6" opacity="1"/>
<rect x="321.8" y="714.6" width="14.8" height="103.8" fill="#f6cba2" opacity="1"/>
<rect x="339.5" y="819.2" width="21.3" height="67.1" fill="#f6cba2" opacity="1"/>
<polyline points="143.1,729.5 163.8,729.4 167.8,729.1 168.2,728.9 168.6,728.1 169.4,724.4 169.8,723.4 170.2,720.4 170.6,722.8 171.4,724.2 172.4,728.3 173.0,729.1 174.4,729.3 178.0,729.2 181.4,728.4 185.4,729.3 190.0,729.2 190.6,728.9 191.2,728.4 192.6,725.7 193.0,725.4 193.4,725.8 194.8,728.5 195.4,729.0 196.4,729.2 215.8,729.4 226.2,729.2 227.2,728.8 227.6,727.7 228.4,720.2 228.6,720.7 229.2,726.3 229.4,726.6 230.2,720.2 230.4,720.8 231.2,728.1 231.6,728.9 232.8,729.2 247.0,729.3 271.2,729.0 274.4,728.6 277.8,727.3 279.0,727.0 280.0,727.2 283.4,728.5 286.0,728.8 296.8,728.6 304.6,728.1 305.8,727.8 306.6,727.4 307.0,726.7 307.2,725.8 307.6,720.3 308.2,705.1 308.4,706.5 309.0,722.2 309.2,724.9 309.6,726.7 310.0,727.1 310.8,727.3 314.0,727.1 318.6,726.2 322.2,724.9 324.4,723.6 326.2,722.2 327.8,720.4 329.2,718.4 330.4,715.9 331.6,712.6 333.4,704.9 334.8,694.8 336.0,680.7 336.8,666.3 337.8,638.8 338.0,637.0 345.0,637.0 345.8,659.0 346.6,675.3 347.4,686.3 348.4,694.7 351.6,710.4 352.6,713.9 353.2,715.2 353.8,716.0 356.0,717.3 358.2,721.0 359.4,722.3 360.6,722.7 362.4,722.2 363.0,722.3 363.6,722.8 365.4,725.0 366.6,725.7 367.6,725.8 369.2,725.2 370.0,725.1 372.4,726.7 373.6,727.1 374.4,727.0 376.2,726.1 377.0,726.0 380.2,727.9 382.8,728.3 393.8,728.8 404.6,728.9 405.2,728.8 405.8,728.4 407.0,726.3 407.4,726.1 408.8,728.3 409.4,728.8 410.0,729.0 424.8,729.1 426.0,729.0 426.6,728.7 428.6,726.3 429.0,726.4 430.4,728.5 431.4,729.0 434.4,729.2 441.6,729.2 444.0,729.0 444.6,728.7 445.0,728.3 445.6,726.4 446.8,719.3 447.0,719.5 447.2,720.4 448.2,726.9 448.8,728.4 449.4,728.9 450.2,729.1 454.2,729.2 456.6,728.9 457.2,728.5 457.6,727.9 458.2,725.8 459.0,720.8 459.4,719.3 459.8,720.2 461.0,727.0 461.4,728.1 461.8,728.6 462.4,728.9 463.4,728.8 464.2,728.4 465.4,727.5 466.0,727.3 466.6,727.6 468.0,728.7 468.8,729.1 472.6,729.3" fill="none" stroke="#262626" stroke-width="1.0" stroke-linejoin="round"/>
<polyline points="143.1,810.3 163.2,810.2 166.2,810.1 167.6,809.8 168.0,809.5 168.4,808.6 169.4,801.1 169.6,800.8 170.0,801.0 170.6,798.3 170.8,798.4 171.2,800.0 171.6,800.3 171.8,800.8 172.6,807.6 173.0,809.1 173.4,809.6 175.4,810.0 178.8,809.9 179.8,809.6 181.4,808.3 182.0,808.1 184.4,809.6 186.2,809.7 188.4,809.3 189.6,808.5 190.0,807.8 190.4,806.3 190.8,802.5 191.8,775.9 192.2,770.4 193.2,790.9 193.4,791.9 193.6,790.5 194.6,757.4 194.8,752.4 195.0,751.4 196.4,797.9 197.0,805.6 197.4,807.3 198.0,808.4 198.8,809.0 200.0,809.5 204.2,810.0 221.8,810.2 225.4,810.1 227.0,809.8 227.6,809.3 228.0,806.9 228.6,794.2 228.8,795.6 229.2,804.9 229.4,807.3 229.6,807.7 229.8,806.4 230.4,794.1 231.2,807.9 231.4,809.0 231.8,809.7 232.6,810.0 234.4,810.1 242.6,810.0 245.6,809.6 246.6,809.3 247.4,808.8 248.2,807.7 248.6,806.4 249.2,799.1 249.6,782.8 250.4,723.5 250.6,720.6 251.8,796.3 252.2,804.2 252.6,806.8 253.2,808.2 254.2,809.1 256.0,809.7 258.8,810.0 263.6,810.0 267.8,809.9 270.4,809.6 272.0,809.0 273.0,808.0 273.6,806.0 274.2,800.3 275.6,766.8 275.8,763.9 276.0,763.3 276.4,768.9 277.6,798.7 278.2,805.4 278.6,807.3 279.0,808.2 280.0,809.1 282.0,809.7 285.0,810.0 290.0,810.1 296.4,810.0 300.2,809.7 302.6,809.2 304.0,808.3 305.0,806.6 305.8,802.9 306.2,798.4 306.6,788.1 307.0,753.9 307.2,655.2 307.4,637.0 308.0,637.0 308.2,724.9 308.6,783.4 309.0,796.6 309.4,802.0 310.0,805.6 310.6,807.2 311.2,808.1 312.4,809.0 314.0,809.4 316.4,809.6 319.0,809.5 320.4,809.1 321.4,808.5 322.0,807.8 322.4,806.6 322.8,802.7 323.0,798.2 323.8,760.6 324.0,758.2 324.8,791.6 325.0,795.6 325.2,795.7 325.6,781.9 326.4,717.9 326.6,721.6 327.2,773.0 327.4,783.1 327.6,785.3 328.4,736.7 328.6,741.2 329.2,789.5 329.6,800.7 329.8,801.0 330.0,798.6 330.2,792.2 330.8,751.8 331.0,748.3 331.6,787.7 332.0,801.0 332.2,802.0 332.6,796.5 333.4,768.9 333.6,770.8 334.4,800.7 334.8,806.3 335.4,808.3 336.2,809.0 337.6,809.4 339.8,809.5 341.8,809.3 343.0,808.9 343.8,808.3 344.4,807.4 344.8,806.0 345.2,802.1 345.6,789.2 346.4,737.9 346.6,740.3 347.2,776.7 347.4,781.3 347.6,778.3 348.4,727.1 348.6,730.7 349.2,777.4 349.6,792.5 349.8,792.5 350.0,788.6 350.8,755.0 351.0,753.5 352.2,800.7 352.6,805.7 353.2,807.9 354.0,808.8 355.0,809.3 358.6,809.9 367.4,810.2 385.2,810.1 392.0,810.0 395.6,809.6 397.8,808.8 398.6,808.2 399.2,807.3 400.0,805.3 400.6,801.8 401.0,796.9 401.4,786.5 401.8,755.8 402.2,637.0 403.0,637.0 403.4,768.1 404.0,795.0 404.4,800.7 404.8,803.6 405.2,805.1 405.8,806.0 406.6,805.6 407.0,805.6 408.2,808.2 409.0,809.2 409.8,809.5 411.2,809.8 417.6,810.1 425.6,810.0 426.8,809.5 428.2,807.5 428.6,807.2 429.0,807.4 430.4,809.4 431.6,810.0 438.6,810.2 443.6,809.9 444.6,809.6 445.2,808.5 445.6,806.8 446.8,798.3 447.0,798.5 447.2,799.6 448.2,807.3 448.6,808.8 449.0,809.4 449.8,809.8 451.2,810.0 455.8,809.8 457.0,809.3 457.4,808.6 457.8,807.1 459.4,794.3 459.6,794.5 459.8,795.7 461.0,806.6 461.4,808.3 461.8,809.1 462.4,809.5 463.4,809.6 464.2,809.2 465.4,808.3 466.0,808.1 468.0,809.6 468.8,810.0 472.6,810.2" fill="none" stroke="#262626" stroke-width="1.0" stroke-linejoin="round"/>
<polyline points="143.1,877.3 160.2,877.3 165.2,876.9 166.2,876.6 167.0,875.9 167.8,874.9 169.6,871.9 170.4,871.3 171.2,872.0 172.8,874.7 173.8,876.0 175.0,876.8 176.4,877.1 185.8,877.3 195.2,877.1 197.2,876.5 199.8,874.7 200.8,874.3 201.8,874.6 204.6,876.6 206.6,877.1 217.2,877.2 225.2,877.0 226.8,876.5 227.8,875.5 228.8,873.1 230.2,868.2 230.8,867.3 231.4,868.0 233.0,873.4 233.8,875.3 234.8,876.4 236.4,876.9 246.2,877.2 278.0,877.1 292.8,876.8 300.0,876.3 302.2,875.8 303.8,875.1 305.0,874.0 305.8,872.6 306.4,870.7 307.0,867.6 308.4,855.9 308.8,853.8 309.0,853.6 309.4,855.1 310.6,865.4 311.4,870.1 312.4,873.0 313.0,873.8 313.8,874.5 315.6,875.2 318.0,875.5 321.4,875.4 325.2,875.0 328.4,874.4 331.0,873.5 333.2,872.5 335.2,871.2 337.0,869.5 338.6,867.2 339.8,864.8 341.0,861.5 342.0,857.7 343.0,852.3 344.4,840.6 345.4,827.2 346.4,806.8 348.8,726.0 349.2,716.2 349.6,712.1 349.8,712.5 350.0,714.5 350.4,723.0 352.4,792.9 353.6,821.7 354.4,834.2 355.4,845.1 356.4,852.4 357.8,859.0 358.6,861.6 359.6,864.0 360.6,865.7 361.8,867.1 363.2,868.1 366.4,869.7 370.4,872.5 373.0,873.7 375.6,874.5 378.8,875.0 382.6,875.3 386.2,875.2 389.0,874.9 391.2,874.4 393.0,873.6 394.4,872.6 395.6,871.1 396.6,869.1 397.4,866.6 398.2,862.6 399.2,852.9 400.0,835.9 400.6,807.5 401.0,768.5 401.6,637.0 403.4,637.0 403.6,650.5 404.2,780.9 405.0,832.6 405.6,848.2 406.2,856.8 407.0,863.4 408.0,867.9 409.2,870.9 410.0,872.1 411.0,873.2 413.4,874.7 416.8,875.7 421.4,876.3 425.2,876.3 426.6,875.8 428.6,874.1 429.4,873.8 430.2,874.1 432.4,876.1 433.8,876.6 438.8,876.9 443.4,876.7 444.4,876.3 445.2,875.4 447.0,870.9 447.6,870.0 448.2,870.6 449.6,874.4 450.4,875.8 451.4,876.5 453.4,876.7 455.6,876.4 456.8,875.4 457.8,873.4 459.6,867.9 460.2,867.2 460.6,867.4 461.0,868.2 463.0,874.2 463.6,875.3 464.4,876.2 465.2,876.6 466.6,876.9 472.6,877.1" fill="none" stroke="#262626" stroke-width="1.0" stroke-linejoin="round"/>
<rect x="142.05" y="636.0" width="331.75" height="268.0" fill="none" stroke="#111" stroke-width="2"/>
<line x1="155.0" y1="904" x2="155.0" y2="909" stroke="#111" stroke-width="1.6"/>
<line x1="177.8" y1="904" x2="177.8" y2="907" stroke="#111" stroke-width="1.6"/>
<line x1="200.5" y1="904" x2="200.5" y2="909" stroke="#111" stroke-width="1.6"/>
<line x1="223.3" y1="904" x2="223.3" y2="907" stroke="#111" stroke-width="1.6"/>
<line x1="246.1" y1="904" x2="246.1" y2="909" stroke="#111" stroke-width="1.6"/>
<line x1="268.8" y1="904" x2="268.8" y2="907" stroke="#111" stroke-width="1.6"/>
<line x1="291.6" y1="904" x2="291.6" y2="909" stroke="#111" stroke-width="1.6"/>
<line x1="314.4" y1="904" x2="314.4" y2="907" stroke="#111" stroke-width="1.6"/>
<line x1="337.1" y1="904" x2="337.1" y2="909" stroke="#111" stroke-width="1.6"/>
<line x1="359.9" y1="904" x2="359.9" y2="907" stroke="#111" stroke-width="1.6"/>
<line x1="382.6" y1="904" x2="382.6" y2="909" stroke="#111" stroke-width="1.6"/>
<line x1="405.4" y1="904" x2="405.4" y2="907" stroke="#111" stroke-width="1.6"/>
<line x1="428.2" y1="904" x2="428.2" y2="909" stroke="#111" stroke-width="1.6"/>
<line x1="450.9" y1="904" x2="450.9" y2="907" stroke="#111" stroke-width="1.6"/>
<line x1="473.7" y1="904" x2="473.7" y2="909" stroke="#111" stroke-width="1.6"/>
<text x="155.0" y="924" text-anchor="middle" font-family="Liberation Sans" font-weight="bold" font-size="13.5" fill="#111">6.3</text>
<text x="200.5" y="924" text-anchor="middle" font-family="Liberation Sans" font-weight="bold" font-size="13.5" fill="#111">5.6</text>
<text x="246.1" y="924" text-anchor="middle" font-family="Liberation Sans" font-weight="bold" font-size="13.5" fill="#111">4.9</text>
<text x="291.6" y="924" text-anchor="middle" font-family="Liberation Sans" font-weight="bold" font-size="13.5" fill="#111">4.2</text>
<text x="337.1" y="924" text-anchor="middle" font-family="Liberation Sans" font-weight="bold" font-size="13.5" fill="#111">3.5</text>
<text x="382.6" y="924" text-anchor="middle" font-family="Liberation Sans" font-weight="bold" font-size="13.5" fill="#111">2.8</text>
<text x="428.2" y="924" text-anchor="middle" font-family="Liberation Sans" font-weight="bold" font-size="13.5" fill="#111">2.1</text>
<text x="473.7" y="924" text-anchor="middle" font-family="Liberation Sans" font-weight="bold" font-size="13.5" fill="#111">1.4</text>
<text x="307.9" y="938" text-anchor="middle" font-family="Liberation Sans" font-weight="bold" font-size="13.8" fill="#111">δ (ppm)</text>
<text x="145.3" y="649.5" text-anchor="start" font-family="Liberation Serif" font-weight="bold" font-size="11.3" fill="#222">(1) Star-CD-Quinine</text>
<text x="145.3" y="663.4" text-anchor="start" font-family="Liberation Serif" font-weight="bold" font-size="11.3" fill="#222">(2) CD-Quinine</text>
<text x="145.3" y="677.7" text-anchor="start" font-family="Liberation Serif" font-weight="bold" font-size="11.3" fill="#222">(3) Quinine</text>
<text x="145" y="723.3" text-anchor="start" font-family="Liberation Sans" font-weight="bold" font-size="8.5" fill="#222">(3)</text>
<text x="145" y="806" text-anchor="start" font-family="Liberation Sans" font-weight="bold" font-size="8.5" fill="#222">(2)</text>
<text x="145" y="873.4" text-anchor="start" font-family="Liberation Sans" font-weight="bold" font-size="8.5" fill="#222">(1)</text>
<text x="180.3" y="711.8" text-anchor="middle" font-family="Liberation Sans" font-weight="bold" font-size="8.5" fill="#a9d3ee">12</text>
<text x="278.8" y="711.8" text-anchor="middle" font-family="Liberation Sans" font-weight="bold" font-size="8.5" fill="#2c3190">13</text>
<text x="167.4" y="785" text-anchor="middle" font-family="Liberation Sans" font-weight="bold" font-size="8.5" fill="#2c3190">13</text>
<text x="170.8" y="856.3" text-anchor="middle" font-family="Liberation Sans" font-weight="bold" font-size="8.5" fill="#2c3190">13</text>
<text x="200.9" y="856.3" text-anchor="middle" font-family="Liberation Sans" font-weight="bold" font-size="8.5" fill="#a9d3ee">12</text>
<text x="359" y="745.6" text-anchor="start" font-family="Liberation Sans" font-weight="bold" font-size="8.9" fill="#e8a04a">H-4 of CD</text>
<line x1="337" y1="744.7" x2="353.4" y2="743.4" stroke="#e8a04a" stroke-width="1.2"/><polygon points="358.4,743 353.6,746.0 353.2,740.8" fill="#e8a04a"/>
<text x="272.8" y="840" text-anchor="start" font-family="Liberation Sans" font-weight="bold" font-size="8.7" fill="#e8a04a">H-4 of Star-CD</text>
<line x1="338.7" y1="854.8" x2="326.2" y2="846.5" stroke="#e8a04a" stroke-width="1.2"/><polygon points="322,843.7 327.6,844.3 324.7,848.6" fill="#e8a04a"/>
<line x1="234.8" y1="663.0" x2="241.0" y2="659.5" stroke="#666" stroke-width="0.7"/>
<line x1="234.8" y1="663.0" x2="234.8" y2="675.7" stroke="#666" stroke-width="0.7"/>
<line x1="234.8" y1="675.7" x2="244.2" y2="680.4" stroke="#666" stroke-width="0.7"/>
<line x1="244.2" y1="680.4" x2="254.5" y2="675.7" stroke="#666" stroke-width="0.7"/>
<line x1="254.5" y1="675.7" x2="254.5" y2="663.0" stroke="#666" stroke-width="0.7"/>
<line x1="254.5" y1="663.0" x2="248.0" y2="659.5" stroke="#666" stroke-width="0.7"/>
<line x1="240.3" y1="663.8" x2="239.5" y2="674.9" stroke="#666" stroke-width="0.7"/>
<line x1="254.5" y1="663.0" x2="261.6" y2="659.0" stroke="#666" stroke-width="0.7"/>
<line x1="261.6" y1="659.0" x2="268.7" y2="661.4" stroke="#666" stroke-width="0.7"/>
<line x1="268.7" y1="661.4" x2="274.2" y2="663.8" stroke="#d87070" stroke-width="0.7"/>
<line x1="274.2" y1="663.8" x2="280.6" y2="659.9" stroke="#d87070" stroke-width="0.7"/>
<line x1="280.6" y1="659.9" x2="286.9" y2="658.3" stroke="#d87070" stroke-width="0.7"/>
<line x1="286.9" y1="658.3" x2="294.8" y2="663.0" stroke="#d87070" stroke-width="0.7"/>
<line x1="294.8" y1="663.0" x2="294.8" y2="671.0" stroke="#d87070" stroke-width="0.7"/>
<line x1="293.0" y1="676.0" x2="286.9" y2="679.6" stroke="#d87070" stroke-width="0.7"/>
<line x1="286.9" y1="679.6" x2="275.0" y2="675.7" stroke="#d87070" stroke-width="0.7"/>
<line x1="275.0" y1="675.7" x2="274.2" y2="663.8" stroke="#d87070" stroke-width="0.7"/>
<line x1="275.0" y1="675.7" x2="265.6" y2="680.4" stroke="#d87070" stroke-width="0.7"/>
<line x1="265.6" y1="680.4" x2="264.8" y2="691.4" stroke="#d87070" stroke-width="0.7"/>
<line x1="264.8" y1="691.4" x2="274.2" y2="697.8" stroke="#d87070" stroke-width="0.7"/>
<line x1="274.2" y1="697.8" x2="284.5" y2="693.0" stroke="#d87070" stroke-width="0.7"/>
<line x1="284.5" y1="693.0" x2="285.3" y2="680.4" stroke="#d87070" stroke-width="0.7"/>
<line x1="264.8" y1="691.4" x2="258.0" y2="695.5" stroke="#666" stroke-width="0.7"/>
<line x1="252.0" y1="695.5" x2="246.0" y2="692.5" stroke="#666" stroke-width="0.7"/>
<line x1="225.3" y1="678.5" x2="222.0" y2="677.0" stroke="#666" stroke-width="0.7"/>
<polygon points="234.8,675.7 225.3,679.1 225.3,681.7" fill="#222"/>
<ellipse cx="266.7" cy="650.0" rx="4.4" ry="11.5" fill="none" stroke="#b04050" stroke-width="0.8"/>
<text x="267.5" y="648.5" text-anchor="middle" font-family="Liberation Sans" font-weight="bold" font-size="4.8" fill="#3040c0">OH</text>
<text x="255.3" y="655.0" text-anchor="middle" font-family="Liberation Sans" font-weight="bold" font-size="5" fill="#222">H</text>
<text x="244.6" y="661.0" text-anchor="middle" font-family="Liberation Sans" font-weight="bold" font-size="5.2" fill="#222">N</text>
<text x="295.5" y="677.0" text-anchor="middle" font-family="Liberation Sans" font-weight="bold" font-size="5.2" fill="#222">N</text>
<text x="255.3" y="700.0" text-anchor="middle" font-family="Liberation Sans" font-weight="bold" font-size="5.2" fill="#222">O</text>
<text x="242.0" y="695.0" text-anchor="middle" font-family="Liberation Sans" font-weight="bold" font-size="5" fill="#222">H<tspan font-size="3.5">3</tspan>C</text>
<text x="215.0" y="678.0" text-anchor="middle" font-family="Liberation Sans" font-weight="bold" font-size="5" fill="#222">H<tspan font-size="3.5">2</tspan>C</text>
<text x="229.0" y="680.0" text-anchor="middle" font-family="Liberation Sans" font-weight="normal" font-size="3.2" fill="#d87070">1</text>
<text x="214.0" y="669.0" text-anchor="middle" font-family="Liberation Sans" font-weight="normal" font-size="3.2" fill="#d87070">1</text>
<text x="237.0" y="666.0" text-anchor="middle" font-family="Liberation Sans" font-weight="normal" font-size="3.2" fill="#d87070">1</text>
<text x="240.0" y="670.0" text-anchor="middle" font-family="Liberation Sans" font-weight="normal" font-size="3.2" fill="#d87070">1</text>
<text x="245.0" y="665.0" text-anchor="middle" font-family="Liberation Sans" font-weight="normal" font-size="3.2" fill="#d87070">1</text>
<text x="258.0" y="670.0" text-anchor="middle" font-family="Liberation Sans" font-weight="normal" font-size="3.2" fill="#d87070">1</text>
<text x="244.0" y="684.0" text-anchor="middle" font-family="Liberation Sans" font-weight="normal" font-size="3.2" fill="#d87070">1</text>
<text x="266.0" y="644.0" text-anchor="middle" font-family="Liberation Sans" font-weight="normal" font-size="3.2" fill="#d87070">1</text>
<text x="276.0" y="660.0" text-anchor="middle" font-family="Liberation Sans" font-weight="normal" font-size="3.2" fill="#d87070">1</text>
<text x="282.0" y="657.0" text-anchor="middle" font-family="Liberation Sans" font-weight="normal" font-size="3.2" fill="#d87070">1</text>
<text x="293.0" y="660.0" text-anchor="middle" font-family="Liberation Sans" font-weight="normal" font-size="3.2" fill="#d87070">1</text>
<text x="298.0" y="681.0" text-anchor="middle" font-family="Liberation Sans" font-weight="normal" font-size="3.2" fill="#d87070">1</text>
<text x="275.0" y="671.0" text-anchor="middle" font-family="Liberation Sans" font-weight="normal" font-size="3.2" fill="#d87070">1</text>
<text x="272.0" y="680.0" text-anchor="middle" font-family="Liberation Sans" font-weight="normal" font-size="3.2" fill="#d87070">1</text>
<text x="281.0" y="681.0" text-anchor="middle" font-family="Liberation Sans" font-weight="normal" font-size="3.2" fill="#d87070">1</text>
<text x="268.0" y="689.0" text-anchor="middle" font-family="Liberation Sans" font-weight="normal" font-size="3.2" fill="#d87070">1</text>
<text x="276.0" y="700.0" text-anchor="middle" font-family="Liberation Sans" font-weight="normal" font-size="3.2" fill="#d87070">1</text>
<text x="286.0" y="694.0" text-anchor="middle" font-family="Liberation Sans" font-weight="normal" font-size="3.2" fill="#d87070">1</text>
<text x="245.0" y="698.0" text-anchor="middle" font-family="Liberation Sans" font-weight="normal" font-size="3.2" fill="#d87070">1</text>
<text x="256.0" y="704.0" text-anchor="middle" font-family="Liberation Sans" font-weight="normal" font-size="3.2" fill="#d87070">1</text>
<text x="287.0" y="682.0" text-anchor="middle" font-family="Liberation Sans" font-weight="normal" font-size="3.2" fill="#d87070">1</text>
<rect x="771" y="622.2" width="362" height="324.4" fill="#ffffff" opacity="0.35" filter="url(#blur1)"/>
<rect x="773.8" y="625.1" width="356.3" height="318.6" fill="#ffffff"/>
<rect x="899.7" y="708.7" width="11.9" height="28.3" fill="#cde6f6" opacity="1"/>
<rect x="960.2" y="710.3" width="13.0" height="26.8" fill="#9c9de6" opacity="1"/>
<rect x="897.5" y="751.3" width="4.5" height="61.7" fill="#e9c4ee" opacity="1"/>
<rect x="900.5" y="782.9" width="4.8" height="30.8" fill="#9c9de6" opacity="1"/>
<rect x="959" y="758" width="5.0" height="55.0" fill="#d3e8e4" opacity="1"/>
<rect x="994.5" y="734" width="17.4" height="79.0" fill="#f6cba2" opacity="1"/>
<rect x="901.3" y="857.1" width="11.9" height="31.6" fill="#9c9de6" opacity="1"/>
<rect x="913.2" y="857.1" width="4.8" height="31.6" fill="#cde6f6" opacity="1"/>
<rect x="928.2" y="857.1" width="6.3" height="31.6" fill="#e9c4ee" opacity="1"/>
<rect x="962" y="857.1" width="8.0" height="31.6" fill="#d3e8e4" opacity="1"/>
<rect x="1009" y="822" width="19.0" height="66.7" fill="#f6cba2" opacity="1"/>
<polyline points="782.0,729.2 791.2,729.1 792.6,728.9 793.4,728.3 793.8,726.8 794.0,724.3 794.6,708.0 794.8,708.0 795.6,726.8 795.8,727.9 796.4,728.7 798.6,729.1 806.4,729.2 827.4,729.1 830.0,729.0 831.2,728.7 831.8,728.3 832.2,726.6 833.0,706.4 833.2,706.4 834.0,726.6 834.4,728.3 835.0,728.7 837.6,729.1 846.4,729.1 849.2,729.0 850.4,728.5 850.8,727.1 851.0,724.7 851.6,711.1 852.4,727.0 852.6,728.0 853.0,728.5 853.8,728.6 854.4,728.4 854.8,727.8 855.0,726.7 855.2,723.9 855.8,708.6 856.4,722.7 856.6,723.8 857.2,711.2 857.4,711.2 858.0,724.4 858.2,724.2 858.8,714.6 859.4,725.4 859.6,727.4 860.0,728.5 861.0,728.9 863.2,729.1 880.0,729.2" fill="none" stroke="#262626" stroke-width="1.0" stroke-linejoin="round"/><polyline points="886.5,729.1 889.1,729.0 889.9,728.5 890.3,726.4 890.7,722.0 890.9,721.7 891.3,723.3 891.7,719.8 891.9,719.8 892.3,723.3 892.7,721.7 892.9,722.0 893.5,727.8 893.7,728.5 894.3,728.9 899.3,729.1 901.5,729.0 902.5,728.8 903.5,727.8 904.9,724.8 905.3,724.5 905.7,724.8 907.3,728.1 907.9,728.7 908.7,729.0 920.7,729.2 926.9,729.1 928.9,728.9 929.5,728.6 929.9,726.9 930.5,716.5 931.1,726.8 931.3,728.0 931.7,728.5 932.1,728.0 932.3,726.8 932.9,716.4 933.5,726.9 933.7,728.1 933.9,728.5 934.3,728.7 934.9,728.6 935.3,727.7 935.9,717.3 936.1,717.3 936.7,727.7 937.1,728.7 937.9,729.0 940.3,729.1 941.3,728.9 941.7,728.3 942.3,726.3 942.5,726.3 943.3,728.7 943.9,729.1 953.9,729.2 962.9,729.0 964.5,728.5 966.3,726.4 966.9,726.2 967.5,726.6 968.9,728.3 970.3,729.0 975.1,729.1 984.1,729.1 984.9,728.8 985.3,728.1 986.1,724.2 986.9,728.1 987.1,728.6 987.5,729.0 992.3,729.1 1000.1,728.9 1001.1,728.5 1001.5,727.4 1002.3,718.4 1002.5,718.4 1003.1,725.9 1003.3,727.4 1003.7,728.5 1004.5,728.8 1006.3,728.9 1008.3,728.7 1009.5,728.3 1010.3,727.6 1010.7,726.6 1011.1,721.9 1011.9,666.6 1012.5,713.3 1012.7,721.5 1012.9,724.7 1013.3,726.2 1013.7,726.2 1014.3,725.1 1016.1,717.2 1016.5,716.3 1016.7,716.3 1017.3,717.9 1018.5,723.5 1019.3,725.6 1019.7,725.9 1020.1,725.9 1021.5,724.9 1022.1,724.8 1022.7,725.2 1024.9,727.9 1025.7,728.5 1026.7,728.8 1031.9,729.0 1037.1,728.9 1038.3,728.4 1040.3,726.5 1041.1,726.2 1041.7,726.5 1043.5,728.3 1044.9,728.9 1048.9,729.1 1055.1,729.0 1056.1,728.8 1056.9,728.2 1058.7,725.5 1059.3,725.2 1059.7,725.5 1061.5,728.2 1062.1,728.7 1063.1,729.0 1077.5,729.1 1086.3,728.9 1087.7,728.4 1088.3,727.3 1088.9,723.9 1089.7,716.3 1089.9,715.2 1090.1,715.2 1091.3,725.3 1091.7,727.2 1092.3,728.1 1093.3,728.2 1095.3,727.2 1096.1,727.0 1098.9,728.5 1100.3,728.6 1101.3,728.0 1102.9,725.6 1103.5,725.1 1104.1,725.6 1105.5,727.9 1106.5,728.7 1108.1,729.0 1112.5,729.1" fill="none" stroke="#262626" stroke-width="1.0" stroke-linejoin="round"/>
<polyline points="782.0,809.5 791.2,809.3 792.6,809.0 793.4,808.1 793.8,805.6 794.0,801.7 794.6,775.8 794.8,775.8 795.6,805.6 795.8,807.4 796.0,808.1 796.4,808.7 797.2,809.1 798.6,809.3 806.4,809.5 827.4,809.4 830.0,809.2 831.2,808.8 831.8,808.0 832.2,805.3 833.0,773.2 833.2,773.2 834.0,805.3 834.4,808.0 835.0,808.8 836.0,809.2 837.8,809.3 846.6,809.4 849.4,809.1 850.0,808.8 850.4,808.3 850.8,806.0 851.0,802.0 851.6,779.3 852.4,806.0 852.6,807.6 853.0,808.4 854.0,808.7 854.6,808.5 855.0,808.1 855.4,806.4 855.6,803.4 856.2,776.4 856.4,776.3 857.0,802.0 857.2,803.3 857.4,800.3 858.0,778.3 858.6,800.2 858.8,802.6 859.4,789.4 859.6,789.6 860.2,805.7 860.4,807.5 860.8,808.5 861.8,809.1 864.2,809.3 880.0,809.4" fill="none" stroke="#262626" stroke-width="1.0" stroke-linejoin="round"/><polyline points="886.5,809.3 888.7,809.1 889.5,808.5 889.9,806.1 890.5,796.8 891.1,803.6 891.7,793.3 891.9,793.2 892.3,801.4 892.5,802.2 892.9,797.0 893.1,797.3 893.5,804.6 893.9,808.0 894.1,808.4 894.5,808.7 895.9,808.7 897.1,808.1 897.7,807.0 898.1,804.4 898.3,800.5 899.1,755.1 899.3,754.8 900.1,794.7 900.3,793.1 900.9,768.5 901.1,768.7 901.9,799.4 902.1,799.3 902.3,795.4 902.9,778.2 903.7,802.5 904.1,807.0 904.5,808.1 905.1,808.6 906.1,809.0 909.9,809.3 925.5,809.4 927.9,809.2 929.1,808.8 929.5,808.4 929.7,807.6 929.9,805.3 930.5,786.2 931.1,805.1 931.5,808.0 931.9,808.1 932.1,807.7 932.3,806.4 932.9,787.5 933.1,787.5 933.5,802.8 933.9,807.8 934.3,808.4 934.9,808.2 935.3,806.5 935.9,787.5 936.1,787.5 936.5,802.8 936.9,807.8 937.3,808.4 938.3,808.6 939.3,808.2 940.1,807.5 940.5,806.6 940.9,804.5 941.3,797.2 942.3,726.3 942.5,726.3 943.5,797.2 943.9,804.6 944.5,807.1 945.3,808.2 946.5,808.8 948.3,809.1 951.3,809.2 955.1,809.2 957.5,808.9 958.9,808.2 959.5,807.3 959.9,805.6 960.3,801.2 961.5,768.9 961.7,768.9 961.9,772.6 962.9,801.2 963.3,805.6 963.9,807.8 964.3,808.2 965.1,808.7 967.1,809.1 971.5,809.2 976.9,809.1 979.5,808.8 981.3,808.4 982.5,807.6 983.3,806.6 983.9,805.0 984.3,803.1 984.9,796.7 985.5,772.3 985.9,636.6 986.7,636.6 986.9,741.5 987.3,785.1 987.9,799.6 988.3,803.0 989.1,806.0 989.7,807.1 990.7,807.9 991.9,808.3 993.5,808.5 994.9,808.3 995.9,807.9 996.7,807.0 997.1,805.9 997.5,801.7 997.7,795.7 998.5,747.7 999.3,793.7 999.7,800.2 1000.1,793.0 1000.9,720.1 1001.1,720.0 1001.7,781.0 1001.9,792.6 1002.1,798.1 1002.3,799.4 1002.7,791.3 1003.5,737.0 1004.3,792.2 1004.7,801.3 1004.9,801.2 1005.1,798.6 1005.3,792.3 1005.9,758.9 1006.1,759.0 1006.9,799.8 1007.3,804.4 1007.5,804.7 1007.7,804.1 1008.1,799.1 1008.9,773.9 1009.1,774.0 1009.9,799.8 1010.3,805.3 1010.5,806.3 1010.9,807.2 1011.5,807.5 1012.1,807.5 1012.7,807.3 1013.3,806.7 1013.7,805.9 1014.1,804.4 1014.5,798.7 1014.7,790.7 1015.5,726.1 1016.3,782.9 1016.5,785.0 1016.7,779.2 1017.5,727.9 1017.7,730.5 1018.5,762.4 1019.1,765.7 1019.3,769.0 1020.1,790.2 1020.7,801.1 1021.1,804.6 1021.7,806.8 1022.3,807.6 1023.1,808.2 1025.7,808.9 1032.7,809.2 1035.7,809.1 1037.3,808.9 1037.9,808.5 1038.5,807.1 1039.7,800.9 1039.9,800.4 1040.1,800.4 1041.5,807.1 1041.9,808.1 1042.5,808.8 1043.5,809.0 1045.3,809.1 1050.7,808.9 1053.3,808.4 1054.9,807.5 1055.5,806.8 1056.1,805.6 1056.9,802.1 1057.5,795.3 1057.9,783.7 1058.3,745.8 1058.5,643.5 1058.7,636.6 1059.3,636.6 1059.5,643.5 1059.9,771.7 1060.5,795.3 1060.9,800.5 1061.7,805.0 1062.3,806.5 1063.3,807.7 1064.7,808.4 1066.7,808.9 1072.1,809.3 1081.5,809.3 1085.3,809.1 1087.1,808.6 1087.5,808.1 1087.9,807.0 1088.3,804.2 1089.3,786.1 1089.5,783.8 1089.7,783.8 1090.9,804.2 1091.3,807.1 1091.9,808.4 1092.9,808.9 1094.7,809.2 1098.1,809.3 1099.5,809.0 1100.1,807.7 1100.9,802.5 1101.1,802.5 1102.1,808.3 1102.7,809.0 1103.5,808.9 1104.1,807.4 1104.9,801.6 1105.1,801.6 1105.9,807.5 1106.5,809.0 1107.9,809.3 1112.5,809.4" fill="none" stroke="#262626" stroke-width="1.0" stroke-linejoin="round"/>
<polyline points="782.0,876.5 790.2,876.3 791.6,876.1 792.4,875.7 792.8,875.1 793.2,873.9 794.6,866.1 794.8,866.1 795.0,866.7 796.4,874.6 797.0,875.7 798.2,876.2 802.8,876.4 818.2,876.5 826.6,876.4 829.6,876.1 830.4,875.7 831.0,874.6 832.2,868.5 832.6,867.5 833.0,868.5 834.2,874.6 834.6,875.5 835.2,876.0 836.8,876.3 840.4,876.4 845.8,876.3 848.6,876.1 849.6,875.6 850.2,874.5 851.6,866.3 851.8,865.7 852.0,865.7 853.6,874.3 854.2,875.3 855.2,875.6 855.8,875.3 856.2,874.8 856.8,873.2 858.2,863.5 858.6,861.8 858.8,861.8 859.2,863.5 860.6,873.3 861.2,875.0 861.8,875.7 863.0,876.1 865.8,876.3 880.0,876.4" fill="none" stroke="#262626" stroke-width="1.0" stroke-linejoin="round"/><polyline points="886.5,876.3 888.5,876.1 889.5,875.5 890.3,873.9 891.3,870.3 891.7,869.5 891.9,869.5 892.3,870.3 893.7,874.9 894.3,875.7 895.3,876.1 899.9,876.3 902.7,876.0 904.1,875.0 905.9,872.6 906.7,871.9 907.5,872.3 909.7,875.2 910.5,875.8 911.5,876.1 914.1,876.3 920.9,876.4 928.9,876.1 929.9,875.7 930.5,874.9 932.5,868.6 932.7,868.6 933.7,869.3 934.9,867.7 935.3,868.3 936.9,874.5 937.7,875.7 938.9,876.1 946.7,876.3 970.5,876.2 978.7,876.0 982.5,875.4 983.5,874.9 984.1,874.2 984.9,871.2 985.5,865.4 986.5,849.8 986.9,846.2 987.1,846.2 987.5,849.8 988.9,869.5 989.5,873.0 990.1,874.3 991.1,875.0 993.3,875.4 996.9,875.3 1000.7,874.9 1002.5,874.4 1003.5,873.8 1004.3,872.8 1005.5,870.8 1006.1,870.3 1006.5,870.3 1007.9,871.0 1008.7,870.8 1009.3,870.2 1010.1,869.0 1011.5,865.5 1012.5,861.2 1013.5,854.2 1014.7,839.0 1016.3,805.5 1016.9,798.4 1017.1,798.4 1017.5,802.1 1019.1,835.5 1020.3,852.3 1020.9,857.4 1021.7,862.2 1022.7,866.1 1023.7,868.6 1025.3,871.1 1027.3,872.8 1030.1,873.9 1033.7,874.6 1036.1,874.5 1037.7,873.9 1039.1,872.3 1041.1,868.8 1041.9,868.1 1042.3,868.1 1042.9,868.7 1045.5,872.7 1046.9,873.7 1048.3,873.7 1049.9,873.3 1051.5,872.3 1052.7,871.0 1053.7,869.3 1054.5,867.2 1055.3,864.0 1055.9,860.2 1056.9,848.3 1057.5,833.6 1058.3,785.6 1059.1,636.6 1060.9,636.6 1061.5,760.8 1062.1,816.2 1062.5,833.7 1063.1,848.4 1063.9,858.6 1064.9,865.1 1065.7,868.0 1066.9,870.6 1068.3,872.4 1070.1,873.6 1072.7,874.6 1076.3,875.2 1081.3,875.5 1084.7,875.2 1085.5,874.9 1086.1,874.4 1087.1,872.3 1087.9,868.8 1089.3,860.0 1089.7,858.4 1089.9,858.1 1090.1,858.1 1090.7,860.0 1092.7,871.6 1093.5,873.9 1094.3,874.8 1095.5,875.3 1097.1,875.4 1098.1,875.2 1098.9,874.6 1099.5,873.6 1100.1,872.0 1101.9,864.9 1102.3,864.2 1102.5,864.2 1103.1,865.5 1104.9,872.7 1105.9,874.8 1106.7,875.5 1107.7,875.8 1112.5,876.2" fill="none" stroke="#262626" stroke-width="1.0" stroke-linejoin="round"/>
<rect x="781.0" y="635.6" width="332.5999999999999" height="268.1" fill="none" stroke="#111" stroke-width="2"/>
<line x1="879.5" y1="640.6" x2="883.5" y2="630.6" stroke="#111" stroke-width="1.6"/>
<line x1="885.5" y1="640.6" x2="889.5" y2="630.6" stroke="#111" stroke-width="1.6"/>
<line x1="879.5" y1="908.7" x2="883.5" y2="898.7" stroke="#111" stroke-width="1.6"/>
<line x1="885.5" y1="908.7" x2="889.5" y2="898.7" stroke="#111" stroke-width="1.6"/>
<line x1="1113.0" y1="903.7" x2="1113.0" y2="908.7" stroke="#111" stroke-width="1.6"/>
<line x1="1095.6" y1="903.7" x2="1095.6" y2="906.7" stroke="#111" stroke-width="1.6"/>
<line x1="1078.2" y1="903.7" x2="1078.2" y2="908.7" stroke="#111" stroke-width="1.6"/>
<line x1="1060.9" y1="903.7" x2="1060.9" y2="906.7" stroke="#111" stroke-width="1.6"/>
<line x1="1043.5" y1="903.7" x2="1043.5" y2="908.7" stroke="#111" stroke-width="1.6"/>
<line x1="1026.1" y1="903.7" x2="1026.1" y2="906.7" stroke="#111" stroke-width="1.6"/>
<line x1="1008.8" y1="903.7" x2="1008.8" y2="908.7" stroke="#111" stroke-width="1.6"/>
<line x1="991.4" y1="903.7" x2="991.4" y2="906.7" stroke="#111" stroke-width="1.6"/>
<line x1="974.0" y1="903.7" x2="974.0" y2="908.7" stroke="#111" stroke-width="1.6"/>
<line x1="956.6" y1="903.7" x2="956.6" y2="906.7" stroke="#111" stroke-width="1.6"/>
<line x1="939.2" y1="903.7" x2="939.2" y2="908.7" stroke="#111" stroke-width="1.6"/>
<line x1="921.9" y1="903.7" x2="921.9" y2="906.7" stroke="#111" stroke-width="1.6"/>
<line x1="811.0" y1="903.7" x2="811.0" y2="908.7" stroke="#111" stroke-width="1.6"/>
<line x1="828.5" y1="903.7" x2="828.5" y2="906.7" stroke="#111" stroke-width="1.6"/>
<line x1="846.0" y1="903.7" x2="846.0" y2="908.7" stroke="#111" stroke-width="1.6"/>
<line x1="863.5" y1="903.7" x2="863.5" y2="906.7" stroke="#111" stroke-width="1.6"/>
<line x1="793.5" y1="903.7" x2="793.5" y2="906.7" stroke="#111" stroke-width="1.6"/>
<text x="811" y="923.5" text-anchor="middle" font-family="Liberation Sans" font-weight="bold" font-size="13.5" fill="#111">8.4</text>
<text x="846" y="923.5" text-anchor="middle" font-family="Liberation Sans" font-weight="bold" font-size="13.5" fill="#111">7.7</text>
<text x="904.5" y="923.5" text-anchor="middle" font-family="Liberation Sans" font-weight="bold" font-size="13.5" fill="#111">5.6</text>
<text x="939.3" y="923.5" text-anchor="middle" font-family="Liberation Sans" font-weight="bold" font-size="13.5" fill="#111">4.9</text>
<text x="974" y="923.5" text-anchor="middle" font-family="Liberation Sans" font-weight="bold" font-size="13.5" fill="#111">4.2</text>
<text x="1009" y="923.5" text-anchor="middle" font-family="Liberation Sans" font-weight="bold" font-size="13.5" fill="#111">3.5</text>
<text x="1043.6" y="923.5" text-anchor="middle" font-family="Liberation Sans" font-weight="bold" font-size="13.5" fill="#111">2.8</text>
<text x="1078.4" y="923.5" text-anchor="middle" font-family="Liberation Sans" font-weight="bold" font-size="13.5" fill="#111">2.1</text>
<text x="1113" y="923.5" text-anchor="middle" font-family="Liberation Sans" font-weight="bold" font-size="13.5" fill="#111">1.4</text>
<text x="944" y="938.5" text-anchor="middle" font-family="Liberation Sans" font-weight="bold" font-size="13.5" fill="#111">δ (ppm)</text>
<text x="787.3" y="651.8" text-anchor="start" font-family="Liberation Serif" font-weight="bold" font-size="11.3" fill="#222">(1) Star-CD-Quinidine</text>
<text x="787.3" y="666.4" text-anchor="start" font-family="Liberation Serif" font-weight="bold" font-size="11.3" fill="#222">(2) CD-Quinidine</text>
<text x="787.3" y="680.6" text-anchor="start" font-family="Liberation Serif" font-weight="bold" font-size="11.3" fill="#222">(3) Quinidine</text>
<text x="781.5" y="721" text-anchor="start" font-family="Liberation Sans" font-weight="bold" font-size="8.5" fill="#222">(3)</text>
<text x="781.5" y="804" text-anchor="start" font-family="Liberation Sans" font-weight="bold" font-size="8.5" fill="#222">(2)</text>
<text x="781.5" y="870.5" text-anchor="start" font-family="Liberation Sans" font-weight="bold" font-size="8.5" fill="#222">(1)</text>
<text x="905.6" y="706.5" text-anchor="middle" font-family="Liberation Sans" font-weight="bold" font-size="7.9" fill="#a9d3ee">12</text>
<text x="966.4" y="706.5" text-anchor="middle" font-family="Liberation Sans" font-weight="bold" font-size="7.9" fill="#2c3190">13</text>
<text x="899.8" y="748.3" text-anchor="middle" font-family="Liberation Sans" font-weight="bold" font-size="7.4" fill="#d58be0">2-OH of CD</text>
<text x="963.2" y="760.9" text-anchor="middle" font-family="Liberation Sans" font-weight="bold" font-size="7.6" fill="#9cc8c2">3-OH of CD</text>
<text x="1019.8" y="745.2" text-anchor="start" font-family="Liberation Sans" font-weight="bold" font-size="7.4" fill="#e8a04a">H-4 of CD</text>
<line x1="1011.9" y1="749.8" x2="1023.5" y2="748.1" stroke="#e8a04a" stroke-width="1.2"/><polygon points="1028.4,747.4 1023.8,750.7 1023.1,745.5" fill="#e8a04a"/>
<text x="900.5" y="779.7" font-family="Liberation Sans" font-weight="bold" font-size="8.5"><tspan fill="#2c3190">13,</tspan><tspan fill="#a9d3ee"> 12</tspan></text>
<text x="790.6" y="852.4" text-anchor="start" font-family="Liberation Sans" font-weight="bold" font-size="9.5" fill="#222">upfiled shift</text>
<line x1="789.2" y1="856.3" x2="844.0" y2="856.3" stroke="#222" stroke-width="1.1"/><polygon points="850,856.3 844.0,858.5 844.0,854.1" fill="#222"/>
<text x="901.7" y="854" text-anchor="middle" font-family="Liberation Sans" font-weight="bold" font-size="7.6" fill="#2c3190">13</text>
<text x="912.3" y="854" text-anchor="middle" font-family="Liberation Sans" font-weight="bold" font-size="7.6" fill="#a9d3ee">12</text>
<text x="932.8" y="844.5" text-anchor="middle" font-family="Liberation Sans" font-weight="bold" font-size="7.2" fill="#d58be0">2-OH of</text>
<text x="932.8" y="854" text-anchor="middle" font-family="Liberation Sans" font-weight="bold" font-size="7.2" fill="#d58be0">Star-CD</text>
<text x="965.5" y="844" text-anchor="middle" font-family="Liberation Sans" font-weight="bold" font-size="7.2" fill="#9cc8c2">3-OH of</text>
<text x="965.5" y="854" text-anchor="middle" font-family="Liberation Sans" font-weight="bold" font-size="7.2" fill="#9cc8c2">Star-CD</text>
<text x="1042.5" y="818" text-anchor="middle" font-family="Liberation Sans" font-weight="bold" font-size="7.2" fill="#e8a04a">H-4 of</text>
<text x="1042.5" y="828" text-anchor="middle" font-family="Liberation Sans" font-weight="bold" font-size="7.2" fill="#e8a04a">Star-CD</text>
<line x1="1028" y1="842" x2="1037.2" y2="834.2" stroke="#e8a04a" stroke-width="1.2"/><polygon points="1041,831 1038.9,836.2 1035.5,832.2" fill="#e8a04a"/>
<line x1="913.5" y1="662.6" x2="919.8" y2="659.0" stroke="#666" stroke-width="0.7"/>
<line x1="913.5" y1="662.6" x2="913.5" y2="675.6" stroke="#666" stroke-width="0.7"/>
<line x1="913.5" y1="675.6" x2="923.1" y2="680.3" stroke="#666" stroke-width="0.7"/>
<line x1="923.1" y1="680.3" x2="933.6" y2="675.6" stroke="#666" stroke-width="0.7"/>
<line x1="933.6" y1="675.6" x2="933.6" y2="662.6" stroke="#666" stroke-width="0.7"/>
<line x1="933.6" y1="662.6" x2="927.0" y2="659.0" stroke="#666" stroke-width="0.7"/>
<line x1="919.1" y1="663.4" x2="918.3" y2="674.7" stroke="#666" stroke-width="0.7"/>
<line x1="933.6" y1="662.6" x2="940.8" y2="658.5" stroke="#666" stroke-width="0.7"/>
<line x1="940.8" y1="658.5" x2="948.1" y2="661.0" stroke="#666" stroke-width="0.7"/>
<line x1="948.1" y1="661.0" x2="953.7" y2="663.4" stroke="#d87070" stroke-width="0.7"/>
<line x1="953.7" y1="663.4" x2="960.2" y2="659.4" stroke="#d87070" stroke-width="0.7"/>
<line x1="960.2" y1="659.4" x2="966.6" y2="657.8" stroke="#d87070" stroke-width="0.7"/>
<line x1="966.6" y1="657.8" x2="974.7" y2="662.6" stroke="#d87070" stroke-width="0.7"/>
<line x1="974.7" y1="662.6" x2="974.7" y2="670.8" stroke="#d87070" stroke-width="0.7"/>
<line x1="972.9" y1="675.9" x2="966.6" y2="679.5" stroke="#d87070" stroke-width="0.7"/>
<line x1="966.6" y1="679.5" x2="954.5" y2="675.6" stroke="#d87070" stroke-width="0.7"/>
<line x1="954.5" y1="675.6" x2="953.7" y2="663.4" stroke="#d87070" stroke-width="0.7"/>
<line x1="954.5" y1="675.6" x2="944.9" y2="680.3" stroke="#d87070" stroke-width="0.7"/>
<line x1="944.9" y1="680.3" x2="944.1" y2="691.6" stroke="#d87070" stroke-width="0.7"/>
<line x1="944.1" y1="691.6" x2="953.7" y2="698.1" stroke="#d87070" stroke-width="0.7"/>
<line x1="953.7" y1="698.1" x2="964.2" y2="693.2" stroke="#d87070" stroke-width="0.7"/>
<line x1="964.2" y1="693.2" x2="965.0" y2="680.3" stroke="#d87070" stroke-width="0.7"/>
<line x1="944.1" y1="691.6" x2="937.2" y2="695.8" stroke="#666" stroke-width="0.7"/>
<line x1="931.0" y1="695.8" x2="924.9" y2="692.7" stroke="#666" stroke-width="0.7"/>
<line x1="903.8" y1="678.4" x2="900.4" y2="676.9" stroke="#666" stroke-width="0.7"/>
<polygon points="913.5,675.6 903.8,679.0 903.8,681.6" fill="#222"/>
<ellipse cx="946.0" cy="649.3" rx="4.5" ry="11.7" fill="none" stroke="#b04050" stroke-width="0.8"/>
<text x="946.9" y="647.8" text-anchor="middle" font-family="Liberation Sans" font-weight="bold" font-size="4.8" fill="#3040c0">OH</text>
<text x="934.4" y="654.4" text-anchor="middle" font-family="Liberation Sans" font-weight="bold" font-size="5" fill="#222">H</text>
<text x="923.5" y="660.6" text-anchor="middle" font-family="Liberation Sans" font-weight="bold" font-size="5.2" fill="#222">N</text>
<text x="975.4" y="676.9" text-anchor="middle" font-family="Liberation Sans" font-weight="bold" font-size="5.2" fill="#222">N</text>
<text x="934.4" y="700.3" text-anchor="middle" font-family="Liberation Sans" font-weight="bold" font-size="5.2" fill="#222">O</text>
<text x="920.8" y="695.2" text-anchor="middle" font-family="Liberation Sans" font-weight="bold" font-size="5" fill="#222">H<tspan font-size="3.5">3</tspan>C</text>
<text x="893.3" y="677.9" text-anchor="middle" font-family="Liberation Sans" font-weight="bold" font-size="5" fill="#222">H<tspan font-size="3.5">2</tspan>C</text>
<text x="907.6" y="679.9" text-anchor="middle" font-family="Liberation Sans" font-weight="normal" font-size="3.2" fill="#d87070">1</text>
<text x="892.3" y="668.7" text-anchor="middle" font-family="Liberation Sans" font-weight="normal" font-size="3.2" fill="#d87070">1</text>
<text x="915.7" y="665.7" text-anchor="middle" font-family="Liberation Sans" font-weight="normal" font-size="3.2" fill="#d87070">1</text>
<text x="918.8" y="669.7" text-anchor="middle" font-family="Liberation Sans" font-weight="normal" font-size="3.2" fill="#d87070">1</text>
<text x="923.9" y="664.6" text-anchor="middle" font-family="Liberation Sans" font-weight="normal" font-size="3.2" fill="#d87070">1</text>
<text x="937.2" y="669.7" text-anchor="middle" font-family="Liberation Sans" font-weight="normal" font-size="3.2" fill="#d87070">1</text>
<text x="922.9" y="684.0" text-anchor="middle" font-family="Liberation Sans" font-weight="normal" font-size="3.2" fill="#d87070">1</text>
<text x="945.3" y="643.2" text-anchor="middle" font-family="Liberation Sans" font-weight="normal" font-size="3.2" fill="#d87070">1</text>
<text x="955.5" y="659.5" text-anchor="middle" font-family="Liberation Sans" font-weight="normal" font-size="3.2" fill="#d87070">1</text>
<text x="961.6" y="656.5" text-anchor="middle" font-family="Liberation Sans" font-weight="normal" font-size="3.2" fill="#d87070">1</text>
<text x="972.9" y="659.5" text-anchor="middle" font-family="Liberation Sans" font-weight="normal" font-size="3.2" fill="#d87070">1</text>
<text x="978.0" y="681.0" text-anchor="middle" font-family="Liberation Sans" font-weight="normal" font-size="3.2" fill="#d87070">1</text>
<text x="954.5" y="670.8" text-anchor="middle" font-family="Liberation Sans" font-weight="normal" font-size="3.2" fill="#d87070">1</text>
<text x="951.4" y="679.9" text-anchor="middle" font-family="Liberation Sans" font-weight="normal" font-size="3.2" fill="#d87070">1</text>
<text x="960.6" y="681.0" text-anchor="middle" font-family="Liberation Sans" font-weight="normal" font-size="3.2" fill="#d87070">1</text>
<text x="947.4" y="689.1" text-anchor="middle" font-family="Liberation Sans" font-weight="normal" font-size="3.2" fill="#d87070">1</text>
<text x="955.5" y="700.3" text-anchor="middle" font-family="Liberation Sans" font-weight="normal" font-size="3.2" fill="#d87070">1</text>
<text x="965.7" y="694.2" text-anchor="middle" font-family="Liberation Sans" font-weight="normal" font-size="3.2" fill="#d87070">1</text>
<text x="923.9" y="698.3" text-anchor="middle" font-family="Liberation Sans" font-weight="normal" font-size="3.2" fill="#d87070">1</text>
<text x="935.1" y="704.4" text-anchor="middle" font-family="Liberation Sans" font-weight="normal" font-size="3.2" fill="#d87070">1</text>
<text x="966.7" y="682.0" text-anchor="middle" font-family="Liberation Sans" font-weight="normal" font-size="3.2" fill="#d87070">1</text>
<text x="633" y="151.7" text-anchor="middle" font-size="24.8" font-family="Liberation Serif" font-weight="bold" fill="#34528f">Sil-Star-CD Column</text>
<text x="633" y="237.6" text-anchor="middle" font-size="25" font-family="Liberation Serif" font-weight="bold" fill="#34528f">Chiral</text>
<text x="633" y="267.5" text-anchor="middle" font-size="25" font-family="Liberation Serif" font-weight="bold" fill="#34528f">separation</text>
<text x="633" y="423" text-anchor="middle" font-size="25" font-family="Liberation Serif" font-weight="bold" fill="#34528f">Molecular</text>
<text x="633" y="452" text-anchor="middle" font-size="25" font-family="Liberation Serif" font-weight="bold" fill="#34528f">simulation</text>
<text x="633" y="590.8" text-anchor="middle" font-size="24.5" font-family="Liberation Serif" font-weight="bold" fill="#34528f">| <tspan font-weight="normal">ΔΔ</tspan>E | = 0.60</text>
<text x="633" y="772.6" text-anchor="middle" font-size="25" font-family="Liberation Serif" font-weight="bold" fill="#34528f">NMR</text>
<text x="633" y="801.5" text-anchor="middle" font-size="25" font-family="Liberation Serif" font-weight="bold" fill="#34528f">analysis</text>
<text x="312" y="620.6" text-anchor="middle" font-size="21.4" font-family="Liberation Serif" font-weight="bold" fill="#bf2229">Star-CD-Quinine</text>
<text x="952" y="620.6" text-anchor="middle" font-size="21.4" font-family="Liberation Serif" font-weight="bold" fill="#bf2229">Star-CD-Quinidine</text>
</svg>
</body></html>
